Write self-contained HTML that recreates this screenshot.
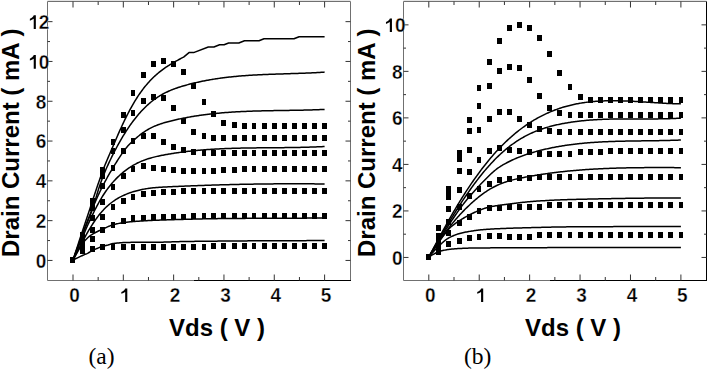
<!DOCTYPE html>
<html><head><meta charset="utf-8"><style>
html,body{margin:0;padding:0;background:#fff;}
body{width:707px;height:369px;overflow:hidden;}
svg{display:block;}
</style></head><body>
<svg width="707" height="369" viewBox="0 0 707 369">
<rect width="707" height="369" fill="#fff"/>
<line x1="47.5" y1="1.5" x2="350.5" y2="1.5" stroke="#707070"/>
<line x1="47.5" y1="0.5" x2="350.5" y2="0.5" stroke="#e4e4e4"/>
<line x1="47.5" y1="1.5" x2="47.5" y2="280.5" stroke="#707070"/>
<line x1="350.5" y1="1.5" x2="350.5" y2="280.5" stroke="#707070"/>
<line x1="47.5" y1="280.5" x2="194" y2="280.5" stroke="#707070"/>
<line x1="194" y1="280.5" x2="351.0" y2="280.5" stroke="#000"/>
<line x1="73.0" y1="280.5" x2="73.0" y2="274.5" stroke="#333"/>
<line x1="73.0" y1="1.5" x2="73.0" y2="7.5" stroke="#333"/>
<line x1="98.16" y1="280.5" x2="98.16" y2="277.0" stroke="#333"/>
<line x1="98.16" y1="1.5" x2="98.16" y2="5.0" stroke="#333"/>
<line x1="123.32" y1="280.5" x2="123.32" y2="274.5" stroke="#333"/>
<line x1="123.32" y1="1.5" x2="123.32" y2="7.5" stroke="#333"/>
<line x1="148.48000000000002" y1="280.5" x2="148.48000000000002" y2="277.0" stroke="#333"/>
<line x1="148.48000000000002" y1="1.5" x2="148.48000000000002" y2="5.0" stroke="#333"/>
<line x1="173.64" y1="280.5" x2="173.64" y2="274.5" stroke="#333"/>
<line x1="173.64" y1="1.5" x2="173.64" y2="7.5" stroke="#333"/>
<line x1="198.8" y1="280.5" x2="198.8" y2="277.0" stroke="#333"/>
<line x1="198.8" y1="1.5" x2="198.8" y2="5.0" stroke="#333"/>
<line x1="223.96" y1="280.5" x2="223.96" y2="274.5" stroke="#333"/>
<line x1="223.96" y1="1.5" x2="223.96" y2="7.5" stroke="#333"/>
<line x1="249.12" y1="280.5" x2="249.12" y2="277.0" stroke="#333"/>
<line x1="249.12" y1="1.5" x2="249.12" y2="5.0" stroke="#333"/>
<line x1="274.28" y1="280.5" x2="274.28" y2="274.5" stroke="#333"/>
<line x1="274.28" y1="1.5" x2="274.28" y2="7.5" stroke="#333"/>
<line x1="299.44" y1="280.5" x2="299.44" y2="277.0" stroke="#333"/>
<line x1="299.44" y1="1.5" x2="299.44" y2="5.0" stroke="#333"/>
<line x1="324.6" y1="280.5" x2="324.6" y2="274.5" stroke="#333"/>
<line x1="324.6" y1="1.5" x2="324.6" y2="7.5" stroke="#333"/>
<line x1="47.5" y1="260.45" x2="52.5" y2="260.45" stroke="#333"/>
<line x1="350.5" y1="260.45" x2="345.5" y2="260.45" stroke="#333"/>
<line x1="47.5" y1="240.54999999999998" x2="50.0" y2="240.54999999999998" stroke="#333"/>
<line x1="350.5" y1="240.54999999999998" x2="348.0" y2="240.54999999999998" stroke="#333"/>
<line x1="47.5" y1="220.64999999999998" x2="52.5" y2="220.64999999999998" stroke="#333"/>
<line x1="350.5" y1="220.64999999999998" x2="345.5" y2="220.64999999999998" stroke="#333"/>
<line x1="47.5" y1="200.75" x2="50.0" y2="200.75" stroke="#333"/>
<line x1="350.5" y1="200.75" x2="348.0" y2="200.75" stroke="#333"/>
<line x1="47.5" y1="180.85" x2="52.5" y2="180.85" stroke="#333"/>
<line x1="350.5" y1="180.85" x2="345.5" y2="180.85" stroke="#333"/>
<line x1="47.5" y1="160.95" x2="50.0" y2="160.95" stroke="#333"/>
<line x1="350.5" y1="160.95" x2="348.0" y2="160.95" stroke="#333"/>
<line x1="47.5" y1="141.05" x2="52.5" y2="141.05" stroke="#333"/>
<line x1="350.5" y1="141.05" x2="345.5" y2="141.05" stroke="#333"/>
<line x1="47.5" y1="121.15000000000002" x2="50.0" y2="121.15000000000002" stroke="#333"/>
<line x1="350.5" y1="121.15000000000002" x2="348.0" y2="121.15000000000002" stroke="#333"/>
<line x1="47.5" y1="101.25000000000001" x2="52.5" y2="101.25000000000001" stroke="#333"/>
<line x1="350.5" y1="101.25000000000001" x2="345.5" y2="101.25000000000001" stroke="#333"/>
<line x1="47.5" y1="81.35000000000001" x2="50.0" y2="81.35000000000001" stroke="#333"/>
<line x1="350.5" y1="81.35000000000001" x2="348.0" y2="81.35000000000001" stroke="#333"/>
<line x1="47.5" y1="61.45" x2="52.5" y2="61.45" stroke="#333"/>
<line x1="350.5" y1="61.45" x2="345.5" y2="61.45" stroke="#333"/>
<line x1="47.5" y1="41.550000000000026" x2="50.0" y2="41.550000000000026" stroke="#333"/>
<line x1="350.5" y1="41.550000000000026" x2="348.0" y2="41.550000000000026" stroke="#333"/>
<line x1="47.5" y1="21.650000000000016" x2="52.5" y2="21.650000000000016" stroke="#333"/>
<line x1="350.5" y1="21.650000000000016" x2="345.5" y2="21.650000000000016" stroke="#333"/>
<path d="M73.00,260.00 L74.00,256.93 L75.00,253.85 L76.00,250.78 L77.00,247.71 L78.00,244.65 L79.00,241.60 L80.00,238.56 L81.00,235.54 L82.00,232.55 L83.00,229.56 L84.00,226.57 L85.00,223.56 L86.00,220.54 L87.00,217.51 L88.00,214.46 L89.00,211.41 L90.00,208.36 L91.00,205.31 L92.00,202.26 L93.00,199.23 L94.00,196.20 L95.00,193.20 L96.00,190.21 L97.00,187.25 L98.00,184.32 L99.00,181.42 L100.00,178.56 L101.00,175.74 L102.00,172.98 L103.00,170.27 L104.00,167.64 L105.00,165.10 L106.00,162.63 L107.00,160.23 L108.00,157.88 L109.00,155.55 L110.00,153.23 L111.00,150.91 L112.00,148.58 L113.00,146.24 L114.00,143.91 L115.00,141.58 L116.00,139.26 L117.00,136.95 L118.00,134.66 L119.00,132.39 L120.00,130.15 L121.00,127.94 L122.00,125.76 L123.00,123.62 L124.00,121.51 L125.00,119.45 L126.00,117.42 L127.00,115.43 L128.00,113.47 L129.00,111.56 L130.00,109.69 L131.00,107.86 L132.00,106.07 L133.00,104.32 L134.00,102.61 L135.00,100.94 L136.00,99.31 L137.00,97.73 L138.00,96.19 L139.00,94.70 L140.00,93.24 L141.00,91.83 L142.00,90.46 L143.00,89.13 L144.00,87.83 L145.00,86.58 L146.00,85.36 L147.00,84.18 L148.00,83.03 L149.00,81.91 L150.00,80.83 L151.00,79.78 L152.00,78.76 L153.00,77.77 L154.00,76.81 L155.00,75.88 L156.00,74.98 L157.00,74.10 L158.00,73.25 L159.00,72.42 L160.00,71.61 L161.00,70.83 L162.00,70.07 L163.00,69.33 L164.00,68.61 L165.00,67.91 L166.00,67.22 L167.00,66.55 L168.00,65.90 L169.00,65.27 L170.00,64.64 L171.00,64.03 L172.00,63.44 L173.00,62.85 L174.00,62.27 L175.00,61.71 L176.00,61.15 L177.00,60.60 L178.00,60.05 L179.00,59.51 L180.00,58.98 L181.00,58.45 L182.00,57.92 L183.00,57.39 L183.60,57.08 L189.00,52.60 L193.60,52.60 L208.30,47.00 L213.90,47.00 L219.60,44.70 L224.10,44.70 L228.60,43.00 L238.80,43.00 L244.50,40.70 L259.00,40.80 L264.00,38.80 L294.00,38.80 L299.10,36.70 L324.60,36.70" fill="none" stroke="#000" stroke-width="1.5" stroke-linejoin="round"/>
<path d="M73.00,260.00 L74.00,257.35 L75.00,254.69 L76.00,252.01 L77.00,249.33 L78.00,246.64 L79.00,243.95 L80.00,241.27 L81.00,238.61 L82.00,235.96 L83.00,233.34 L84.00,230.76 L85.00,228.21 L86.00,225.69 L87.00,223.21 L88.00,220.72 L89.00,218.23 L90.00,215.71 L91.00,213.14 L92.00,210.47 L93.00,207.55 L94.00,204.36 L95.00,201.01 L96.00,197.60 L97.00,194.22 L98.00,190.96 L99.00,187.84 L100.00,184.86 L101.00,182.01 L102.00,179.27 L103.00,176.64 L104.00,174.11 L105.00,171.68 L106.00,169.32 L107.00,167.04 L108.00,164.82 L109.00,162.66 L110.00,160.55 L111.00,158.47 L112.00,156.43 L113.00,154.43 L114.00,152.46 L115.00,150.52 L116.00,148.62 L117.00,146.75 L118.00,144.91 L119.00,143.11 L120.00,141.34 L121.00,139.60 L122.00,137.90 L123.00,136.23 L124.00,134.59 L125.00,132.99 L126.00,131.42 L127.00,129.88 L128.00,128.37 L129.00,126.89 L130.00,125.44 L131.00,124.03 L132.00,122.65 L133.00,121.29 L134.00,119.97 L135.00,118.68 L136.00,117.42 L137.00,116.19 L138.00,114.99 L139.00,113.82 L140.00,112.68 L141.00,111.57 L142.00,110.48 L143.00,109.43 L144.00,108.41 L145.00,107.41 L146.00,106.45 L147.00,105.51 L148.00,104.60 L149.00,103.72 L150.00,102.86 L151.00,102.04 L152.00,101.24 L153.00,100.46 L154.00,99.71 L155.00,98.98 L156.00,98.28 L157.00,97.60 L158.00,96.95 L159.00,96.31 L160.00,95.70 L161.00,95.11 L162.00,94.53 L163.00,93.98 L164.00,93.45 L165.00,92.93 L166.00,92.43 L167.00,91.95 L168.00,91.48 L169.00,91.03 L170.00,90.60 L171.00,90.18 L172.00,89.77 L173.00,89.37 L174.00,88.99 L175.00,88.62 L176.00,88.26 L177.00,87.92 L178.00,87.58 L179.00,87.25 L180.00,86.93 L181.00,86.62 L182.00,86.31 L183.00,86.02 L184.00,85.73 L185.00,85.44 L186.00,85.16 L187.00,84.88 L188.00,84.61 L189.00,84.35 L190.00,84.09 L191.00,83.83 L192.00,83.58 L193.00,83.33 L194.00,83.09 L195.00,82.85 L196.00,82.62 L197.00,82.39 L198.00,82.16 L199.00,81.94 L200.00,81.73 L201.00,81.51 L202.00,81.31 L203.00,81.10 L204.00,80.90 L205.00,80.71 L206.00,80.52 L207.00,80.33 L208.00,80.14 L209.00,79.97 L210.00,79.79 L211.00,79.62 L212.00,79.45 L213.00,79.28 L214.00,79.12 L215.00,78.96 L216.00,78.81 L217.00,78.66 L218.00,78.51 L219.00,78.37 L220.00,78.23 L221.00,78.09 L222.00,77.96 L223.00,77.82 L224.00,77.70 L225.00,77.57 L226.00,77.45 L227.00,77.33 L228.00,77.21 L229.00,77.10 L230.00,76.99 L231.00,76.88 L232.00,76.78 L233.00,76.68 L234.00,76.58 L235.00,76.48 L236.00,76.38 L237.00,76.29 L238.00,76.20 L239.00,76.12 L240.00,76.03 L241.00,75.95 L242.00,75.87 L243.00,75.79 L244.00,75.71 L245.00,75.64 L246.00,75.57 L247.00,75.50 L248.00,75.43 L249.00,75.36 L250.00,75.30 L251.00,75.23 L252.00,75.17 L253.00,75.11 L254.00,75.06 L255.00,75.00 L256.00,74.95 L257.00,74.89 L258.00,74.84 L259.00,74.79 L260.00,74.74 L261.00,74.69 L262.00,74.65 L263.00,74.60 L264.00,74.56 L265.00,74.52 L266.00,74.47 L267.00,74.43 L268.00,74.39 L269.00,74.35 L270.00,74.32 L271.00,74.28 L272.00,74.24 L273.00,74.21 L274.00,74.17 L275.00,74.14 L276.00,74.10 L277.00,74.07 L278.00,74.04 L279.00,74.00 L280.00,73.97 L281.00,73.94 L282.00,73.91 L283.00,73.88 L284.00,73.84 L285.00,73.81 L286.00,73.78 L287.00,73.75 L288.00,73.72 L289.00,73.69 L290.00,73.66 L291.00,73.62 L292.00,73.59 L293.00,73.56 L294.00,73.53 L295.00,73.49 L296.00,73.46 L297.00,73.43 L298.00,73.39 L299.00,73.36 L300.00,73.32 L301.00,73.29 L302.00,73.25 L303.00,73.21 L304.00,73.17 L305.00,73.13 L306.00,73.09 L307.00,73.05 L308.00,73.01 L309.00,72.97 L310.00,72.92 L311.00,72.88 L312.00,72.83 L313.00,72.78 L314.00,72.73 L315.00,72.68 L316.00,72.63 L317.00,72.58 L318.00,72.52 L319.00,72.46 L320.00,72.41 L321.00,72.35 L322.00,72.29 L323.00,72.22 L324.00,72.16 L324.60,72.12" fill="none" stroke="#000" stroke-width="1.5" stroke-linejoin="round"/>
<path d="M73.00,260.00 L74.00,257.24 L75.00,254.49 L76.00,251.74 L77.00,248.99 L78.00,246.24 L79.00,243.51 L80.00,240.78 L81.00,238.07 L82.00,235.37 L83.00,232.68 L84.00,230.02 L85.00,227.37 L86.00,224.75 L87.00,222.15 L88.00,219.58 L89.00,217.04 L90.00,214.52 L91.00,212.04 L92.00,209.60 L93.00,207.19 L94.00,204.82 L95.00,202.49 L96.00,200.20 L97.00,197.96 L98.00,195.76 L99.00,193.62 L100.00,191.52 L101.00,189.46 L102.00,187.45 L103.00,185.48 L104.00,183.55 L105.00,181.66 L106.00,179.81 L107.00,177.99 L108.00,176.20 L109.00,174.44 L110.00,172.71 L111.00,171.01 L112.00,169.33 L113.00,167.67 L114.00,166.04 L115.00,164.42 L116.00,162.83 L117.00,161.24 L118.00,159.67 L119.00,158.12 L120.00,156.58 L121.00,155.07 L122.00,153.59 L123.00,152.15 L124.00,150.76 L125.00,149.42 L126.00,148.15 L127.00,146.94 L128.00,145.80 L129.00,144.73 L130.00,143.71 L131.00,142.73 L132.00,141.78 L133.00,140.86 L134.00,139.96 L135.00,139.07 L136.00,138.21 L137.00,137.36 L138.00,136.53 L139.00,135.73 L140.00,134.94 L141.00,134.18 L142.00,133.44 L143.00,132.72 L144.00,132.02 L145.00,131.35 L146.00,130.71 L147.00,130.09 L148.00,129.49 L149.00,128.92 L150.00,128.38 L151.00,127.86 L152.00,127.36 L153.00,126.89 L154.00,126.43 L155.00,126.00 L156.00,125.58 L157.00,125.19 L158.00,124.80 L159.00,124.44 L160.00,124.09 L161.00,123.75 L162.00,123.43 L163.00,123.12 L164.00,122.82 L165.00,122.53 L166.00,122.25 L167.00,121.98 L168.00,121.71 L169.00,121.45 L170.00,121.20 L171.00,120.95 L172.00,120.70 L173.00,120.46 L174.00,120.22 L175.00,119.99 L176.00,119.76 L177.00,119.54 L178.00,119.31 L179.00,119.10 L180.00,118.88 L181.00,118.67 L182.00,118.47 L183.00,118.26 L184.00,118.06 L185.00,117.87 L186.00,117.68 L187.00,117.49 L188.00,117.30 L189.00,117.12 L190.00,116.94 L191.00,116.77 L192.00,116.60 L193.00,116.43 L194.00,116.27 L195.00,116.10 L196.00,115.95 L197.00,115.79 L198.00,115.64 L199.00,115.49 L200.00,115.35 L201.00,115.20 L202.00,115.07 L203.00,114.93 L204.00,114.80 L205.00,114.67 L206.00,114.54 L207.00,114.41 L208.00,114.29 L209.00,114.17 L210.00,114.06 L211.00,113.94 L212.00,113.83 L213.00,113.72 L214.00,113.62 L215.00,113.51 L216.00,113.41 L217.00,113.32 L218.00,113.22 L219.00,113.13 L220.00,113.04 L221.00,112.95 L222.00,112.86 L223.00,112.78 L224.00,112.69 L225.00,112.61 L226.00,112.54 L227.00,112.46 L228.00,112.39 L229.00,112.32 L230.00,112.25 L231.00,112.18 L232.00,112.11 L233.00,112.05 L234.00,111.99 L235.00,111.93 L236.00,111.87 L237.00,111.82 L238.00,111.76 L239.00,111.71 L240.00,111.66 L241.00,111.61 L242.00,111.56 L243.00,111.51 L244.00,111.47 L245.00,111.42 L246.00,111.38 L247.00,111.34 L248.00,111.30 L249.00,111.26 L250.00,111.22 L251.00,111.19 L252.00,111.15 L253.00,111.12 L254.00,111.09 L255.00,111.06 L256.00,111.03 L257.00,111.00 L258.00,110.97 L259.00,110.94 L260.00,110.92 L261.00,110.89 L262.00,110.87 L263.00,110.84 L264.00,110.82 L265.00,110.80 L266.00,110.78 L267.00,110.76 L268.00,110.73 L269.00,110.71 L270.00,110.70 L271.00,110.68 L272.00,110.66 L273.00,110.64 L274.00,110.62 L275.00,110.61 L276.00,110.59 L277.00,110.57 L278.00,110.56 L279.00,110.54 L280.00,110.53 L281.00,110.51 L282.00,110.49 L283.00,110.48 L284.00,110.46 L285.00,110.45 L286.00,110.43 L287.00,110.42 L288.00,110.40 L289.00,110.39 L290.00,110.37 L291.00,110.35 L292.00,110.34 L293.00,110.32 L294.00,110.30 L295.00,110.28 L296.00,110.27 L297.00,110.25 L298.00,110.23 L299.00,110.21 L300.00,110.19 L301.00,110.17 L302.00,110.15 L303.00,110.13 L304.00,110.10 L305.00,110.08 L306.00,110.06 L307.00,110.03 L308.00,110.01 L309.00,109.98 L310.00,109.95 L311.00,109.92 L312.00,109.90 L313.00,109.86 L314.00,109.83 L315.00,109.80 L316.00,109.77 L317.00,109.73 L318.00,109.70 L319.00,109.66 L320.00,109.62 L321.00,109.58 L322.00,109.54 L323.00,109.50 L324.00,109.45 L324.60,109.42" fill="none" stroke="#000" stroke-width="1.5" stroke-linejoin="round"/>
<path d="M73.00,260.00 L74.00,257.58 L75.00,255.16 L76.00,252.74 L77.00,250.33 L78.00,247.92 L79.00,245.51 L80.00,243.12 L81.00,240.74 L82.00,238.37 L83.00,236.01 L84.00,233.68 L85.00,231.36 L86.00,229.07 L87.00,226.80 L88.00,224.55 L89.00,222.34 L90.00,220.16 L91.00,218.01 L92.00,215.89 L93.00,213.81 L94.00,211.77 L95.00,209.77 L96.00,207.82 L97.00,205.91 L98.00,204.05 L99.00,202.24 L100.00,200.48 L101.00,198.77 L102.00,197.12 L103.00,195.52 L104.00,193.97 L105.00,192.47 L106.00,191.03 L107.00,189.62 L108.00,188.27 L109.00,186.96 L110.00,185.69 L111.00,184.46 L112.00,183.27 L113.00,182.12 L114.00,181.01 L115.00,179.93 L116.00,178.88 L117.00,177.87 L118.00,176.89 L119.00,175.93 L120.00,175.01 L121.00,174.12 L122.00,173.25 L123.00,172.41 L124.00,171.60 L125.00,170.82 L126.00,170.06 L127.00,169.33 L128.00,168.62 L129.00,167.94 L130.00,167.28 L131.00,166.64 L132.00,166.03 L133.00,165.44 L134.00,164.87 L135.00,164.32 L136.00,163.79 L137.00,163.28 L138.00,162.79 L139.00,162.32 L140.00,161.87 L141.00,161.43 L142.00,161.02 L143.00,160.61 L144.00,160.23 L145.00,159.86 L146.00,159.50 L147.00,159.16 L148.00,158.83 L149.00,158.52 L150.00,158.21 L151.00,157.92 L152.00,157.64 L153.00,157.37 L154.00,157.11 L155.00,156.86 L156.00,156.62 L157.00,156.39 L158.00,156.17 L159.00,155.95 L160.00,155.74 L161.00,155.54 L162.00,155.34 L163.00,155.14 L164.00,154.95 L165.00,154.77 L166.00,154.59 L167.00,154.41 L168.00,154.23 L169.00,154.06 L170.00,153.89 L171.00,153.73 L172.00,153.56 L173.00,153.40 L174.00,153.25 L175.00,153.10 L176.00,152.94 L177.00,152.80 L178.00,152.65 L179.00,152.51 L180.00,152.37 L181.00,152.24 L182.00,152.10 L183.00,151.97 L184.00,151.85 L185.00,151.72 L186.00,151.60 L187.00,151.48 L188.00,151.36 L189.00,151.25 L190.00,151.14 L191.00,151.03 L192.00,150.92 L193.00,150.82 L194.00,150.72 L195.00,150.62 L196.00,150.52 L197.00,150.43 L198.00,150.33 L199.00,150.24 L200.00,150.16 L201.00,150.07 L202.00,149.99 L203.00,149.91 L204.00,149.83 L205.00,149.75 L206.00,149.68 L207.00,149.60 L208.00,149.53 L209.00,149.46 L210.00,149.40 L211.00,149.33 L212.00,149.27 L213.00,149.21 L214.00,149.15 L215.00,149.09 L216.00,149.04 L217.00,148.98 L218.00,148.93 L219.00,148.88 L220.00,148.83 L221.00,148.78 L222.00,148.74 L223.00,148.69 L224.00,148.65 L225.00,148.61 L226.00,148.57 L227.00,148.53 L228.00,148.49 L229.00,148.45 L230.00,148.42 L231.00,148.39 L232.00,148.35 L233.00,148.32 L234.00,148.29 L235.00,148.26 L236.00,148.24 L237.00,148.21 L238.00,148.19 L239.00,148.16 L240.00,148.14 L241.00,148.12 L242.00,148.09 L243.00,148.07 L244.00,148.05 L245.00,148.04 L246.00,148.02 L247.00,148.00 L248.00,147.98 L249.00,147.97 L250.00,147.95 L251.00,147.94 L252.00,147.92 L253.00,147.91 L254.00,147.90 L255.00,147.89 L256.00,147.88 L257.00,147.86 L258.00,147.85 L259.00,147.84 L260.00,147.83 L261.00,147.82 L262.00,147.81 L263.00,147.81 L264.00,147.80 L265.00,147.79 L266.00,147.78 L267.00,147.77 L268.00,147.76 L269.00,147.76 L270.00,147.75 L271.00,147.74 L272.00,147.73 L273.00,147.72 L274.00,147.72 L275.00,147.71 L276.00,147.70 L277.00,147.69 L278.00,147.68 L279.00,147.67 L280.00,147.66 L281.00,147.66 L282.00,147.65 L283.00,147.64 L284.00,147.63 L285.00,147.61 L286.00,147.60 L287.00,147.59 L288.00,147.58 L289.00,147.57 L290.00,147.55 L291.00,147.54 L292.00,147.52 L293.00,147.51 L294.00,147.49 L295.00,147.48 L296.00,147.46 L297.00,147.44 L298.00,147.42 L299.00,147.40 L300.00,147.38 L301.00,147.36 L302.00,147.34 L303.00,147.31 L304.00,147.29 L305.00,147.26 L306.00,147.24 L307.00,147.21 L308.00,147.18 L309.00,147.15 L310.00,147.12 L311.00,147.08 L312.00,147.05 L313.00,147.02 L314.00,146.98 L315.00,146.94 L316.00,146.90 L317.00,146.86 L318.00,146.82 L319.00,146.78 L320.00,146.73 L321.00,146.68 L322.00,146.64 L323.00,146.59 L324.00,146.53 L324.60,146.50" fill="none" stroke="#000" stroke-width="1.5" stroke-linejoin="round"/>
<path d="M73.00,260.00 L74.00,258.05 L75.00,256.09 L76.00,254.14 L77.00,252.19 L78.00,250.25 L79.00,248.32 L80.00,246.39 L81.00,244.49 L82.00,242.59 L83.00,240.72 L84.00,238.87 L85.00,237.04 L86.00,235.23 L87.00,233.45 L88.00,231.70 L89.00,229.99 L90.00,228.31 L91.00,226.66 L92.00,225.06 L93.00,223.50 L94.00,221.98 L95.00,220.50 L96.00,219.08 L97.00,217.69 L98.00,216.36 L99.00,215.08 L100.00,213.84 L101.00,212.64 L102.00,211.50 L103.00,210.39 L104.00,209.33 L105.00,208.31 L106.00,207.33 L107.00,206.39 L108.00,205.49 L109.00,204.62 L110.00,203.79 L111.00,202.99 L112.00,202.23 L113.00,201.50 L114.00,200.80 L115.00,200.12 L116.00,199.48 L117.00,198.86 L118.00,198.27 L119.00,197.71 L120.00,197.16 L121.00,196.64 L122.00,196.14 L123.00,195.66 L124.00,195.20 L125.00,194.76 L126.00,194.33 L127.00,193.92 L128.00,193.53 L129.00,193.15 L130.00,192.79 L131.00,192.44 L132.00,192.10 L133.00,191.79 L134.00,191.48 L135.00,191.19 L136.00,190.91 L137.00,190.65 L138.00,190.40 L139.00,190.16 L140.00,189.93 L141.00,189.71 L142.00,189.51 L143.00,189.31 L144.00,189.13 L145.00,188.96 L146.00,188.79 L147.00,188.63 L148.00,188.49 L149.00,188.35 L150.00,188.22 L151.00,188.10 L152.00,187.98 L153.00,187.87 L154.00,187.77 L155.00,187.68 L156.00,187.59 L157.00,187.50 L158.00,187.42 L159.00,187.35 L160.00,187.28 L161.00,187.22 L162.00,187.15 L163.00,187.10 L164.00,187.04 L165.00,186.99 L166.00,186.94 L167.00,186.89 L168.00,186.84 L169.00,186.79 L170.00,186.75 L171.00,186.70 L172.00,186.65 L173.00,186.61 L174.00,186.57 L175.00,186.52 L176.00,186.48 L177.00,186.43 L178.00,186.39 L179.00,186.35 L180.00,186.30 L181.00,186.26 L182.00,186.22 L183.00,186.18 L184.00,186.14 L185.00,186.10 L186.00,186.05 L187.00,186.01 L188.00,185.97 L189.00,185.93 L190.00,185.90 L191.00,185.86 L192.00,185.82 L193.00,185.78 L194.00,185.74 L195.00,185.70 L196.00,185.67 L197.00,185.63 L198.00,185.59 L199.00,185.56 L200.00,185.52 L201.00,185.48 L202.00,185.45 L203.00,185.41 L204.00,185.38 L205.00,185.35 L206.00,185.31 L207.00,185.28 L208.00,185.24 L209.00,185.21 L210.00,185.18 L211.00,185.15 L212.00,185.12 L213.00,185.08 L214.00,185.05 L215.00,185.02 L216.00,184.99 L217.00,184.96 L218.00,184.93 L219.00,184.90 L220.00,184.87 L221.00,184.85 L222.00,184.82 L223.00,184.79 L224.00,184.76 L225.00,184.73 L226.00,184.71 L227.00,184.68 L228.00,184.66 L229.00,184.63 L230.00,184.60 L231.00,184.58 L232.00,184.55 L233.00,184.53 L234.00,184.51 L235.00,184.48 L236.00,184.46 L237.00,184.44 L238.00,184.42 L239.00,184.39 L240.00,184.37 L241.00,184.35 L242.00,184.33 L243.00,184.31 L244.00,184.29 L245.00,184.27 L246.00,184.25 L247.00,184.23 L248.00,184.21 L249.00,184.19 L250.00,184.18 L251.00,184.16 L252.00,184.14 L253.00,184.13 L254.00,184.11 L255.00,184.09 L256.00,184.08 L257.00,184.06 L258.00,184.05 L259.00,184.03 L260.00,184.02 L261.00,184.01 L262.00,183.99 L263.00,183.98 L264.00,183.97 L265.00,183.96 L266.00,183.94 L267.00,183.93 L268.00,183.92 L269.00,183.91 L270.00,183.90 L271.00,183.89 L272.00,183.88 L273.00,183.88 L274.00,183.87 L275.00,183.86 L276.00,183.85 L277.00,183.84 L278.00,183.84 L279.00,183.83 L280.00,183.83 L281.00,183.82 L282.00,183.81 L283.00,183.81 L284.00,183.81 L285.00,183.80 L286.00,183.80 L287.00,183.80 L288.00,183.79 L289.00,183.79 L290.00,183.79 L291.00,183.79 L292.00,183.79 L293.00,183.79 L294.00,183.79 L295.00,183.79 L296.00,183.79 L297.00,183.79 L298.00,183.79 L299.00,183.79 L300.00,183.79 L301.00,183.80 L302.00,183.80 L303.00,183.80 L304.00,183.81 L305.00,183.81 L306.00,183.82 L307.00,183.82 L308.00,183.83 L309.00,183.83 L310.00,183.84 L311.00,183.85 L312.00,183.86 L313.00,183.86 L314.00,183.87 L315.00,183.88 L316.00,183.89 L317.00,183.90 L318.00,183.91 L319.00,183.92 L320.00,183.93 L321.00,183.94 L322.00,183.96 L323.00,183.97 L324.00,183.98 L324.60,183.99" fill="none" stroke="#000" stroke-width="1.5" stroke-linejoin="round"/>
<path d="M73.00,260.00 L74.00,258.20 L75.00,256.41 L76.00,254.63 L77.00,252.87 L78.00,251.13 L79.00,249.42 L80.00,247.75 L81.00,246.12 L82.00,244.54 L83.00,243.00 L84.00,241.62 L85.00,240.48 L86.00,239.42 L87.00,238.44 L88.00,237.53 L89.00,236.68 L90.00,235.90 L91.00,235.18 L92.00,234.50 L93.00,233.88 L94.00,233.29 L95.00,232.74 L96.00,232.22 L97.00,231.72 L98.00,231.25 L99.00,230.79 L100.00,230.33 L101.00,229.88 L102.00,229.43 L103.00,228.97 L104.00,228.50 L105.00,228.03 L106.00,227.57 L107.00,227.11 L108.00,226.68 L109.00,226.26 L110.00,225.87 L111.00,225.52 L112.00,225.20 L113.00,224.91 L114.00,224.63 L115.00,224.36 L116.00,224.10 L117.00,223.85 L118.00,223.61 L119.00,223.39 L120.00,223.18 L121.00,222.99 L122.00,222.82 L123.00,222.66 L124.00,222.52 L125.00,222.40 L126.00,222.29 L127.00,222.18 L128.00,222.07 L129.00,221.97 L130.00,221.87 L131.00,221.77 L132.00,221.68 L133.00,221.59 L134.00,221.51 L135.00,221.43 L136.00,221.35 L137.00,221.28 L138.00,221.20 L139.00,221.14 L140.00,221.07 L141.00,221.00 L142.00,220.94 L143.00,220.88 L144.00,220.82 L145.00,220.76 L146.00,220.71 L147.00,220.66 L148.00,220.60 L149.00,220.55 L150.00,220.50 L151.00,220.45 L152.00,220.40 L153.00,220.36 L154.00,220.32 L155.00,220.28 L156.00,220.24 L157.00,220.20 L158.00,220.17 L159.00,220.13 L160.00,220.10 L161.00,220.07 L162.00,220.03 L163.00,220.00 L164.00,219.97 L165.00,219.94 L166.00,219.91 L167.00,219.87 L168.00,219.84 L169.00,219.81 L170.00,219.78 L171.00,219.75 L172.00,219.71 L173.00,219.68 L174.00,219.65 L175.00,219.62 L176.00,219.59 L177.00,219.56 L178.00,219.53 L179.00,219.50 L180.00,219.47 L181.00,219.44 L182.00,219.41 L183.00,219.38 L184.00,219.35 L185.00,219.32 L186.00,219.29 L187.00,219.27 L188.00,219.24 L189.00,219.21 L190.00,219.18 L191.00,219.16 L192.00,219.13 L193.00,219.11 L194.00,219.08 L195.00,219.06 L196.00,219.03 L197.00,219.01 L198.00,218.98 L199.00,218.96 L200.00,218.94 L201.00,218.92 L202.00,218.89 L203.00,218.87 L204.00,218.85 L205.00,218.83 L206.00,218.81 L207.00,218.79 L208.00,218.77 L209.00,218.76 L210.00,218.74 L211.00,218.72 L212.00,218.71 L213.00,218.69 L214.00,218.68 L215.00,218.66 L216.00,218.65 L217.00,218.63 L218.00,218.62 L219.00,218.61 L220.00,218.60 L221.00,218.59 L222.00,218.58 L223.00,218.57 L224.00,218.56 L225.00,218.55 L226.00,218.54 L227.00,218.53 L228.00,218.52 L229.00,218.51 L230.00,218.50 L231.00,218.49 L232.00,218.48 L233.00,218.48 L234.00,218.47 L235.00,218.46 L236.00,218.45 L237.00,218.44 L238.00,218.43 L239.00,218.43 L240.00,218.42 L241.00,218.41 L242.00,218.40 L243.00,218.39 L244.00,218.39 L245.00,218.38 L246.00,218.37 L247.00,218.37 L248.00,218.36 L249.00,218.35 L250.00,218.35 L251.00,218.34 L252.00,218.33 L253.00,218.33 L254.00,218.32 L255.00,218.31 L256.00,218.31 L257.00,218.30 L258.00,218.30 L259.00,218.29 L260.00,218.29 L261.00,218.28 L262.00,218.28 L263.00,218.27 L264.00,218.27 L265.00,218.26 L266.00,218.26 L267.00,218.25 L268.00,218.25 L269.00,218.24 L270.00,218.24 L271.00,218.23 L272.00,218.23 L273.00,218.23 L274.00,218.22 L275.00,218.22 L276.00,218.21 L277.00,218.21 L278.00,218.21 L279.00,218.20 L280.00,218.20 L281.00,218.20 L282.00,218.19 L283.00,218.19 L284.00,218.19 L285.00,218.18 L286.00,218.18 L287.00,218.18 L288.00,218.17 L289.00,218.17 L290.00,218.17 L291.00,218.17 L292.00,218.16 L293.00,218.16 L294.00,218.16 L295.00,218.15 L296.00,218.15 L297.00,218.15 L298.00,218.14 L299.00,218.14 L300.00,218.14 L301.00,218.14 L302.00,218.13 L303.00,218.13 L304.00,218.13 L305.00,218.13 L306.00,218.13 L307.00,218.12 L308.00,218.12 L309.00,218.12 L310.00,218.12 L311.00,218.12 L312.00,218.11 L313.00,218.11 L314.00,218.11 L315.00,218.11 L316.00,218.11 L317.00,218.11 L318.00,218.10 L319.00,218.10 L320.00,218.10 L321.00,218.10 L322.00,218.10 L323.00,218.10 L324.00,218.10 L324.60,218.10" fill="none" stroke="#000" stroke-width="1.5" stroke-linejoin="round"/>
<path d="M73.00,260.00 L74.00,259.51 L75.00,259.03 L76.00,258.54 L77.00,258.06 L78.00,257.58 L79.00,257.11 L80.00,256.64 L81.00,256.18 L82.00,255.73 L83.00,255.28 L84.00,254.85 L85.00,254.42 L86.00,254.00 L87.00,253.60 L88.00,253.10 L89.00,252.52 L90.00,251.92 L91.00,251.33 L92.00,250.80 L93.00,250.32 L94.00,249.84 L95.00,249.38 L96.00,248.93 L97.00,248.49 L98.00,248.07 L99.00,247.67 L100.00,247.29 L101.00,246.93 L102.00,246.60 L103.00,246.30 L104.00,246.02 L105.00,245.76 L106.00,245.52 L107.00,245.26 L108.00,245.00 L109.00,244.70 L110.00,244.38 L111.00,244.06 L112.00,243.79 L113.00,243.60 L114.00,243.47 L115.00,243.34 L116.00,243.22 L117.00,243.10 L118.00,243.00 L119.00,242.90 L120.00,242.81 L121.00,242.73 L122.00,242.65 L123.00,242.59 L124.00,242.53 L125.00,242.48 L126.00,242.45 L127.00,242.42 L128.00,242.40 L129.00,242.39 L130.00,242.38 L131.00,242.37 L132.00,242.36 L133.00,242.35 L134.00,242.34 L135.00,242.33 L136.00,242.33 L137.00,242.32 L138.00,242.32 L139.00,242.31 L140.00,242.31 L141.00,242.30 L142.00,242.30 L143.00,242.30 L144.00,242.29 L145.00,242.29 L146.00,242.28 L147.00,242.28 L148.00,242.28 L149.00,242.27 L150.00,242.27 L151.00,242.27 L152.00,242.26 L153.00,242.26 L154.00,242.25 L155.00,242.24 L156.00,242.24 L157.00,242.23 L158.00,242.22 L159.00,242.21 L160.00,242.20 L161.00,242.19 L162.00,242.17 L163.00,242.15 L164.00,242.12 L165.00,242.10 L166.00,242.06 L167.00,242.03 L168.00,242.00 L169.00,241.96 L170.00,241.92 L171.00,241.89 L172.00,241.85 L173.00,241.81 L174.00,241.78 L175.00,241.74 L176.00,241.71 L177.00,241.68 L178.00,241.65 L179.00,241.63 L180.00,241.61 L181.00,241.59 L182.00,241.57 L183.00,241.55 L184.00,241.53 L185.00,241.52 L186.00,241.50 L187.00,241.48 L188.00,241.47 L189.00,241.45 L190.00,241.44 L191.00,241.42 L192.00,241.41 L193.00,241.40 L194.00,241.38 L195.00,241.37 L196.00,241.35 L197.00,241.34 L198.00,241.33 L199.00,241.32 L200.00,241.30 L201.00,241.29 L202.00,241.28 L203.00,241.27 L204.00,241.26 L205.00,241.25 L206.00,241.24 L207.00,241.23 L208.00,241.21 L209.00,241.20 L210.00,241.19 L211.00,241.18 L212.00,241.17 L213.00,241.16 L214.00,241.16 L215.00,241.15 L216.00,241.14 L217.00,241.13 L218.00,241.12 L219.00,241.11 L220.00,241.10 L221.00,241.09 L222.00,241.08 L223.00,241.07 L224.00,241.06 L225.00,241.06 L226.00,241.05 L227.00,241.04 L228.00,241.03 L229.00,241.02 L230.00,241.01 L231.00,241.00 L232.00,241.00 L233.00,240.99 L234.00,240.98 L235.00,240.97 L236.00,240.96 L237.00,240.96 L238.00,240.95 L239.00,240.94 L240.00,240.93 L241.00,240.92 L242.00,240.92 L243.00,240.91 L244.00,240.90 L245.00,240.89 L246.00,240.89 L247.00,240.88 L248.00,240.87 L249.00,240.86 L250.00,240.86 L251.00,240.85 L252.00,240.84 L253.00,240.84 L254.00,240.83 L255.00,240.82 L256.00,240.82 L257.00,240.81 L258.00,240.81 L259.00,240.80 L260.00,240.79 L261.00,240.79 L262.00,240.78 L263.00,240.78 L264.00,240.77 L265.00,240.77 L266.00,240.76 L267.00,240.75 L268.00,240.75 L269.00,240.74 L270.00,240.74 L271.00,240.74 L272.00,240.73 L273.00,240.73 L274.00,240.72 L275.00,240.72 L276.00,240.71 L277.00,240.71 L278.00,240.71 L279.00,240.70 L280.00,240.70 L281.00,240.70 L282.00,240.69 L283.00,240.69 L284.00,240.69 L285.00,240.68 L286.00,240.68 L287.00,240.68 L288.00,240.67 L289.00,240.67 L290.00,240.67 L291.00,240.67 L292.00,240.66 L293.00,240.66 L294.00,240.66 L295.00,240.65 L296.00,240.65 L297.00,240.65 L298.00,240.64 L299.00,240.64 L300.00,240.64 L301.00,240.64 L302.00,240.63 L303.00,240.63 L304.00,240.63 L305.00,240.63 L306.00,240.63 L307.00,240.62 L308.00,240.62 L309.00,240.62 L310.00,240.62 L311.00,240.62 L312.00,240.61 L313.00,240.61 L314.00,240.61 L315.00,240.61 L316.00,240.61 L317.00,240.61 L318.00,240.60 L319.00,240.60 L320.00,240.60 L321.00,240.60 L322.00,240.60 L323.00,240.60 L324.00,240.60 L324.60,240.60" fill="none" stroke="#000" stroke-width="1.5" stroke-linejoin="round"/>
<rect x="70" y="257" width="5" height="6" fill="#000"/>
<rect x="80" y="232" width="5" height="6" fill="#000"/>
<rect x="90" y="198" width="5" height="6" fill="#000"/>
<rect x="100" y="167" width="5" height="6" fill="#000"/>
<rect x="111" y="139" width="4" height="6" fill="#000"/>
<rect x="121" y="112" width="5" height="6" fill="#000"/>
<rect x="131" y="90" width="4" height="6" fill="#000"/>
<rect x="141" y="72" width="5" height="6" fill="#000"/>
<rect x="151" y="61" width="5" height="6" fill="#000"/>
<rect x="161" y="58" width="5" height="6" fill="#000"/>
<rect x="171" y="61" width="5" height="6" fill="#000"/>
<rect x="181" y="69" width="5" height="6" fill="#000"/>
<rect x="191" y="83" width="5" height="6" fill="#000"/>
<rect x="202" y="99" width="4" height="6" fill="#000"/>
<rect x="211" y="111" width="5" height="6" fill="#000"/>
<rect x="221" y="120" width="5" height="6" fill="#000"/>
<rect x="232" y="122" width="5" height="6" fill="#000"/>
<rect x="242" y="123" width="5" height="6" fill="#000"/>
<rect x="252" y="123" width="4" height="6" fill="#000"/>
<rect x="262" y="123" width="5" height="6" fill="#000"/>
<rect x="272" y="123" width="5" height="6" fill="#000"/>
<rect x="282" y="123" width="5" height="6" fill="#000"/>
<rect x="292" y="123" width="5" height="6" fill="#000"/>
<rect x="302" y="123" width="5" height="6" fill="#000"/>
<rect x="312" y="123" width="5" height="6" fill="#000"/>
<rect x="322" y="123" width="5" height="6" fill="#000"/>
<rect x="70" y="257" width="5" height="6" fill="#000"/>
<rect x="80" y="235" width="5" height="6" fill="#000"/>
<rect x="90" y="202" width="5" height="6" fill="#000"/>
<rect x="100" y="173" width="5" height="6" fill="#000"/>
<rect x="111" y="148" width="4" height="6" fill="#000"/>
<rect x="121" y="127" width="5" height="6" fill="#000"/>
<rect x="131" y="110" width="4" height="6" fill="#000"/>
<rect x="141" y="98" width="5" height="6" fill="#000"/>
<rect x="151" y="94" width="5" height="6" fill="#000"/>
<rect x="161" y="95" width="5" height="6" fill="#000"/>
<rect x="171" y="105" width="5" height="6" fill="#000"/>
<rect x="181" y="118" width="5" height="6" fill="#000"/>
<rect x="191" y="129" width="5" height="6" fill="#000"/>
<rect x="202" y="133" width="4" height="6" fill="#000"/>
<rect x="211" y="135" width="5" height="6" fill="#000"/>
<rect x="221" y="135" width="5" height="6" fill="#000"/>
<rect x="232" y="135" width="5" height="6" fill="#000"/>
<rect x="242" y="135" width="5" height="6" fill="#000"/>
<rect x="252" y="135" width="4" height="6" fill="#000"/>
<rect x="262" y="135" width="5" height="6" fill="#000"/>
<rect x="272" y="135" width="5" height="6" fill="#000"/>
<rect x="282" y="135" width="5" height="6" fill="#000"/>
<rect x="292" y="135" width="5" height="6" fill="#000"/>
<rect x="302" y="135" width="5" height="6" fill="#000"/>
<rect x="312" y="135" width="5" height="6" fill="#000"/>
<rect x="322" y="135" width="5" height="6" fill="#000"/>
<rect x="70" y="257" width="5" height="6" fill="#000"/>
<rect x="80" y="238" width="5" height="6" fill="#000"/>
<rect x="90" y="205" width="5" height="6" fill="#000"/>
<rect x="100" y="183" width="5" height="6" fill="#000"/>
<rect x="111" y="165" width="4" height="6" fill="#000"/>
<rect x="121" y="148" width="5" height="6" fill="#000"/>
<rect x="131" y="138" width="4" height="6" fill="#000"/>
<rect x="141" y="133" width="5" height="6" fill="#000"/>
<rect x="151" y="133" width="5" height="6" fill="#000"/>
<rect x="161" y="139" width="5" height="6" fill="#000"/>
<rect x="171" y="144" width="5" height="6" fill="#000"/>
<rect x="181" y="147" width="5" height="6" fill="#000"/>
<rect x="191" y="149" width="5" height="6" fill="#000"/>
<rect x="202" y="150" width="4" height="6" fill="#000"/>
<rect x="211" y="150" width="5" height="6" fill="#000"/>
<rect x="221" y="150" width="5" height="6" fill="#000"/>
<rect x="232" y="150" width="5" height="6" fill="#000"/>
<rect x="242" y="150" width="5" height="6" fill="#000"/>
<rect x="252" y="150" width="4" height="6" fill="#000"/>
<rect x="262" y="150" width="5" height="6" fill="#000"/>
<rect x="272" y="150" width="5" height="6" fill="#000"/>
<rect x="282" y="150" width="5" height="6" fill="#000"/>
<rect x="292" y="150" width="5" height="6" fill="#000"/>
<rect x="302" y="150" width="5" height="6" fill="#000"/>
<rect x="312" y="150" width="5" height="6" fill="#000"/>
<rect x="322" y="150" width="5" height="6" fill="#000"/>
<rect x="70" y="257" width="5" height="6" fill="#000"/>
<rect x="80" y="241" width="5" height="6" fill="#000"/>
<rect x="90" y="215" width="5" height="6" fill="#000"/>
<rect x="100" y="199" width="5" height="6" fill="#000"/>
<rect x="111" y="184" width="4" height="6" fill="#000"/>
<rect x="121" y="173" width="5" height="6" fill="#000"/>
<rect x="131" y="166" width="4" height="6" fill="#000"/>
<rect x="141" y="163" width="5" height="6" fill="#000"/>
<rect x="151" y="165" width="5" height="6" fill="#000"/>
<rect x="161" y="166" width="5" height="6" fill="#000"/>
<rect x="171" y="167" width="5" height="6" fill="#000"/>
<rect x="181" y="168" width="5" height="6" fill="#000"/>
<rect x="191" y="168" width="5" height="6" fill="#000"/>
<rect x="202" y="168" width="4" height="6" fill="#000"/>
<rect x="211" y="168" width="5" height="6" fill="#000"/>
<rect x="221" y="167" width="5" height="6" fill="#000"/>
<rect x="232" y="167" width="5" height="6" fill="#000"/>
<rect x="242" y="166" width="5" height="6" fill="#000"/>
<rect x="252" y="166" width="4" height="6" fill="#000"/>
<rect x="262" y="166" width="5" height="6" fill="#000"/>
<rect x="272" y="166" width="5" height="6" fill="#000"/>
<rect x="282" y="166" width="5" height="6" fill="#000"/>
<rect x="292" y="166" width="5" height="6" fill="#000"/>
<rect x="302" y="166" width="5" height="6" fill="#000"/>
<rect x="312" y="166" width="5" height="6" fill="#000"/>
<rect x="322" y="166" width="5" height="6" fill="#000"/>
<rect x="70" y="257" width="5" height="6" fill="#000"/>
<rect x="80" y="244" width="5" height="6" fill="#000"/>
<rect x="90" y="227" width="5" height="6" fill="#000"/>
<rect x="100" y="214" width="5" height="6" fill="#000"/>
<rect x="111" y="204" width="4" height="6" fill="#000"/>
<rect x="121" y="198" width="5" height="6" fill="#000"/>
<rect x="131" y="194" width="4" height="6" fill="#000"/>
<rect x="141" y="191" width="5" height="6" fill="#000"/>
<rect x="151" y="190" width="5" height="6" fill="#000"/>
<rect x="161" y="189" width="5" height="6" fill="#000"/>
<rect x="171" y="189" width="5" height="6" fill="#000"/>
<rect x="181" y="188" width="5" height="6" fill="#000"/>
<rect x="191" y="188" width="5" height="6" fill="#000"/>
<rect x="202" y="188" width="4" height="6" fill="#000"/>
<rect x="211" y="188" width="5" height="6" fill="#000"/>
<rect x="221" y="188" width="5" height="6" fill="#000"/>
<rect x="232" y="188" width="5" height="6" fill="#000"/>
<rect x="242" y="188" width="5" height="6" fill="#000"/>
<rect x="252" y="188" width="4" height="6" fill="#000"/>
<rect x="262" y="188" width="5" height="6" fill="#000"/>
<rect x="272" y="188" width="5" height="6" fill="#000"/>
<rect x="282" y="188" width="5" height="6" fill="#000"/>
<rect x="292" y="188" width="5" height="6" fill="#000"/>
<rect x="302" y="188" width="5" height="6" fill="#000"/>
<rect x="312" y="188" width="5" height="6" fill="#000"/>
<rect x="322" y="188" width="5" height="6" fill="#000"/>
<rect x="70" y="257" width="5" height="6" fill="#000"/>
<rect x="80" y="246" width="5" height="6" fill="#000"/>
<rect x="90" y="236" width="5" height="6" fill="#000"/>
<rect x="100" y="227" width="5" height="6" fill="#000"/>
<rect x="111" y="222" width="4" height="6" fill="#000"/>
<rect x="121" y="218" width="5" height="6" fill="#000"/>
<rect x="131" y="215" width="4" height="6" fill="#000"/>
<rect x="141" y="215" width="5" height="6" fill="#000"/>
<rect x="151" y="214" width="5" height="6" fill="#000"/>
<rect x="161" y="214" width="5" height="6" fill="#000"/>
<rect x="171" y="214" width="5" height="6" fill="#000"/>
<rect x="181" y="214" width="5" height="6" fill="#000"/>
<rect x="191" y="213" width="5" height="6" fill="#000"/>
<rect x="202" y="213" width="4" height="6" fill="#000"/>
<rect x="211" y="213" width="5" height="6" fill="#000"/>
<rect x="221" y="213" width="5" height="6" fill="#000"/>
<rect x="232" y="213" width="5" height="6" fill="#000"/>
<rect x="242" y="213" width="5" height="6" fill="#000"/>
<rect x="252" y="213" width="4" height="6" fill="#000"/>
<rect x="262" y="213" width="5" height="6" fill="#000"/>
<rect x="272" y="213" width="5" height="6" fill="#000"/>
<rect x="282" y="213" width="5" height="6" fill="#000"/>
<rect x="292" y="213" width="5" height="6" fill="#000"/>
<rect x="302" y="213" width="5" height="6" fill="#000"/>
<rect x="312" y="213" width="5" height="6" fill="#000"/>
<rect x="322" y="213" width="5" height="6" fill="#000"/>
<rect x="70" y="257" width="5" height="6" fill="#000"/>
<rect x="80" y="248" width="5" height="6" fill="#000"/>
<rect x="90" y="246" width="5" height="6" fill="#000"/>
<rect x="100" y="244" width="5" height="6" fill="#000"/>
<rect x="111" y="244" width="4" height="6" fill="#000"/>
<rect x="121" y="244" width="5" height="6" fill="#000"/>
<rect x="131" y="244" width="4" height="6" fill="#000"/>
<rect x="141" y="244" width="5" height="6" fill="#000"/>
<rect x="151" y="244" width="5" height="6" fill="#000"/>
<rect x="161" y="244" width="5" height="6" fill="#000"/>
<rect x="171" y="244" width="5" height="6" fill="#000"/>
<rect x="181" y="244" width="5" height="6" fill="#000"/>
<rect x="191" y="244" width="5" height="6" fill="#000"/>
<rect x="202" y="244" width="4" height="6" fill="#000"/>
<rect x="211" y="243" width="5" height="6" fill="#000"/>
<rect x="221" y="243" width="5" height="6" fill="#000"/>
<rect x="232" y="243" width="5" height="6" fill="#000"/>
<rect x="242" y="243" width="5" height="6" fill="#000"/>
<rect x="252" y="243" width="4" height="6" fill="#000"/>
<rect x="262" y="243" width="5" height="6" fill="#000"/>
<rect x="272" y="243" width="5" height="6" fill="#000"/>
<rect x="282" y="243" width="5" height="6" fill="#000"/>
<rect x="292" y="243" width="5" height="6" fill="#000"/>
<rect x="302" y="243" width="5" height="6" fill="#000"/>
<rect x="312" y="243" width="5" height="6" fill="#000"/>
<rect x="322" y="243" width="5" height="6" fill="#000"/>
<line x1="403.5" y1="1.5" x2="706.5" y2="1.5" stroke="#707070"/>
<line x1="403.5" y1="0.5" x2="706.5" y2="0.5" stroke="#e4e4e4"/>
<line x1="403.5" y1="1.5" x2="403.5" y2="280.5" stroke="#707070"/>
<line x1="706.5" y1="1.5" x2="706.5" y2="280.5" stroke="#000"/>
<line x1="403.5" y1="280.5" x2="550" y2="280.5" stroke="#707070"/>
<line x1="550" y1="280.5" x2="707.0" y2="280.5" stroke="#000"/>
<line x1="428.8" y1="280.5" x2="428.8" y2="274.5" stroke="#333"/>
<line x1="428.8" y1="1.5" x2="428.8" y2="7.5" stroke="#333"/>
<line x1="454.01" y1="280.5" x2="454.01" y2="277.0" stroke="#333"/>
<line x1="454.01" y1="1.5" x2="454.01" y2="5.0" stroke="#333"/>
<line x1="479.22" y1="280.5" x2="479.22" y2="274.5" stroke="#333"/>
<line x1="479.22" y1="1.5" x2="479.22" y2="7.5" stroke="#333"/>
<line x1="504.43" y1="280.5" x2="504.43" y2="277.0" stroke="#333"/>
<line x1="504.43" y1="1.5" x2="504.43" y2="5.0" stroke="#333"/>
<line x1="529.64" y1="280.5" x2="529.64" y2="274.5" stroke="#333"/>
<line x1="529.64" y1="1.5" x2="529.64" y2="7.5" stroke="#333"/>
<line x1="554.85" y1="280.5" x2="554.85" y2="277.0" stroke="#333"/>
<line x1="554.85" y1="1.5" x2="554.85" y2="5.0" stroke="#333"/>
<line x1="580.06" y1="280.5" x2="580.06" y2="274.5" stroke="#333"/>
<line x1="580.06" y1="1.5" x2="580.06" y2="7.5" stroke="#333"/>
<line x1="605.27" y1="280.5" x2="605.27" y2="277.0" stroke="#333"/>
<line x1="605.27" y1="1.5" x2="605.27" y2="5.0" stroke="#333"/>
<line x1="630.48" y1="280.5" x2="630.48" y2="274.5" stroke="#333"/>
<line x1="630.48" y1="1.5" x2="630.48" y2="7.5" stroke="#333"/>
<line x1="655.69" y1="280.5" x2="655.69" y2="277.0" stroke="#333"/>
<line x1="655.69" y1="1.5" x2="655.69" y2="5.0" stroke="#333"/>
<line x1="680.9000000000001" y1="280.5" x2="680.9000000000001" y2="274.5" stroke="#333"/>
<line x1="680.9000000000001" y1="1.5" x2="680.9000000000001" y2="7.5" stroke="#333"/>
<line x1="403.5" y1="257.45" x2="408.5" y2="257.45" stroke="#333"/>
<line x1="706.5" y1="257.45" x2="701.5" y2="257.45" stroke="#333"/>
<line x1="403.5" y1="234.19" x2="406.0" y2="234.19" stroke="#333"/>
<line x1="706.5" y1="234.19" x2="704.0" y2="234.19" stroke="#333"/>
<line x1="403.5" y1="210.92999999999998" x2="408.5" y2="210.92999999999998" stroke="#333"/>
<line x1="706.5" y1="210.92999999999998" x2="701.5" y2="210.92999999999998" stroke="#333"/>
<line x1="403.5" y1="187.67" x2="406.0" y2="187.67" stroke="#333"/>
<line x1="706.5" y1="187.67" x2="704.0" y2="187.67" stroke="#333"/>
<line x1="403.5" y1="164.40999999999997" x2="408.5" y2="164.40999999999997" stroke="#333"/>
<line x1="706.5" y1="164.40999999999997" x2="701.5" y2="164.40999999999997" stroke="#333"/>
<line x1="403.5" y1="141.14999999999998" x2="406.0" y2="141.14999999999998" stroke="#333"/>
<line x1="706.5" y1="141.14999999999998" x2="704.0" y2="141.14999999999998" stroke="#333"/>
<line x1="403.5" y1="117.89" x2="408.5" y2="117.89" stroke="#333"/>
<line x1="706.5" y1="117.89" x2="701.5" y2="117.89" stroke="#333"/>
<line x1="403.5" y1="94.62999999999998" x2="406.0" y2="94.62999999999998" stroke="#333"/>
<line x1="706.5" y1="94.62999999999998" x2="704.0" y2="94.62999999999998" stroke="#333"/>
<line x1="403.5" y1="71.36999999999999" x2="408.5" y2="71.36999999999999" stroke="#333"/>
<line x1="706.5" y1="71.36999999999999" x2="701.5" y2="71.36999999999999" stroke="#333"/>
<line x1="403.5" y1="48.11" x2="406.0" y2="48.11" stroke="#333"/>
<line x1="706.5" y1="48.11" x2="704.0" y2="48.11" stroke="#333"/>
<line x1="403.5" y1="24.849999999999977" x2="408.5" y2="24.849999999999977" stroke="#333"/>
<line x1="706.5" y1="24.849999999999977" x2="701.5" y2="24.849999999999977" stroke="#333"/>
<path d="M428.80,257.00 L429.80,255.12 L430.80,253.24 L431.80,251.36 L432.80,249.48 L433.80,247.61 L434.80,245.74 L435.80,243.87 L436.80,242.01 L437.80,240.16 L438.80,238.30 L439.80,236.46 L440.80,234.62 L441.80,232.78 L442.80,230.96 L443.80,229.14 L444.80,227.33 L445.80,225.53 L446.80,223.73 L447.80,221.95 L448.80,220.18 L449.80,218.41 L450.80,216.66 L451.80,214.92 L452.80,213.20 L453.80,211.48 L454.80,209.78 L455.80,208.09 L456.80,206.41 L457.80,204.75 L458.80,203.10 L459.80,201.47 L460.80,199.85 L461.80,198.24 L462.80,196.65 L463.80,195.07 L464.80,193.51 L465.80,191.95 L466.80,190.42 L467.80,188.89 L468.80,187.38 L469.80,185.89 L470.80,184.41 L471.80,182.94 L472.80,181.49 L473.80,180.05 L474.80,178.63 L475.80,177.22 L476.80,175.82 L477.80,174.44 L478.80,173.08 L479.80,171.72 L480.80,170.39 L481.80,169.07 L482.80,167.76 L483.80,166.47 L484.80,165.19 L485.80,163.92 L486.80,162.68 L487.80,161.44 L488.80,160.22 L489.80,159.02 L490.80,157.83 L491.80,156.66 L492.80,155.50 L493.80,154.36 L494.80,153.23 L495.80,152.11 L496.80,151.02 L497.80,149.93 L498.80,148.87 L499.80,147.81 L500.80,146.78 L501.80,145.75 L502.80,144.75 L503.80,143.75 L504.80,142.77 L505.80,141.81 L506.80,140.86 L507.80,139.92 L508.80,139.00 L509.80,138.09 L510.80,137.20 L511.80,136.32 L512.80,135.45 L513.80,134.60 L514.80,133.76 L515.80,132.93 L516.80,132.12 L517.80,131.32 L518.80,130.53 L519.80,129.76 L520.80,128.99 L521.80,128.25 L522.80,127.51 L523.80,126.79 L524.80,126.08 L525.80,125.38 L526.80,124.69 L527.80,124.02 L528.80,123.36 L529.80,122.71 L530.80,122.07 L531.80,121.44 L532.80,120.83 L533.80,120.23 L534.80,119.64 L535.80,119.06 L536.80,118.49 L537.80,117.93 L538.80,117.38 L539.80,116.85 L540.80,116.32 L541.80,115.81 L542.80,115.31 L543.80,114.82 L544.80,114.33 L545.80,113.86 L546.80,113.40 L547.80,112.95 L548.80,112.51 L549.80,112.08 L550.80,111.66 L551.80,111.25 L552.80,110.84 L553.80,110.45 L554.80,110.07 L555.80,109.70 L556.80,109.33 L557.80,108.98 L558.80,108.63 L559.80,108.30 L560.80,107.97 L561.80,107.65 L562.80,107.34 L563.80,107.04 L564.80,106.75 L565.80,106.46 L566.80,106.18 L567.80,105.92 L568.80,105.66 L569.80,105.40 L570.80,105.16 L571.80,104.92 L572.80,104.70 L573.80,104.47 L574.80,104.26 L575.80,104.06 L576.80,103.86 L577.80,103.67 L578.80,103.48 L579.80,103.30 L580.80,103.13 L581.80,102.97 L582.80,102.81 L583.80,102.66 L584.80,102.52 L585.80,102.38 L586.80,102.25 L587.80,102.12 L588.80,102.01 L589.80,101.89 L590.80,101.79 L591.80,101.68 L592.80,101.59 L593.80,101.50 L594.80,101.42 L595.80,101.34 L596.80,101.26 L597.80,101.19 L598.80,101.13 L599.80,101.07 L600.80,101.02 L601.80,100.97 L602.80,100.93 L603.80,100.89 L604.80,100.85 L605.80,100.82 L606.80,100.80 L607.80,100.78 L608.80,100.76 L609.80,100.75 L610.80,100.74 L611.80,100.73 L612.80,100.73 L613.80,100.73 L614.80,100.73 L615.80,100.74 L616.80,100.75 L617.80,100.77 L618.80,100.79 L619.80,100.81 L620.80,100.83 L621.80,100.86 L622.80,100.89 L623.80,100.92 L624.80,100.96 L625.80,100.99 L626.80,101.03 L627.80,101.08 L628.80,101.12 L629.80,101.17 L630.80,101.21 L631.80,101.26 L632.80,101.32 L633.80,101.37 L634.80,101.42 L635.80,101.48 L636.80,101.54 L637.80,101.60 L638.80,101.66 L639.80,101.72 L640.80,101.78 L641.80,101.84 L642.80,101.90 L643.80,101.97 L644.80,102.03 L645.80,102.10 L646.80,102.16 L647.80,102.23 L648.80,102.29 L649.80,102.36 L650.80,102.43 L651.80,102.49 L652.80,102.56 L653.80,102.62 L654.80,102.69 L655.80,102.75 L656.80,102.81 L657.80,102.87 L658.80,102.94 L659.80,103.00 L660.80,103.06 L661.80,103.11 L662.80,103.17 L663.80,103.23 L664.80,103.28 L665.80,103.34 L666.80,103.39 L667.80,103.44 L668.80,103.48 L669.80,103.53 L670.80,103.57 L671.80,103.61 L672.80,103.65 L673.80,103.69 L674.80,103.72 L675.80,103.76 L676.80,103.79 L677.80,103.81 L678.80,103.84 L679.80,103.86 L680.80,103.87 L680.90,103.87" fill="none" stroke="#000" stroke-width="1.5" stroke-linejoin="round"/>
<path d="M428.80,257.00 L429.80,255.23 L430.80,253.46 L431.80,251.70 L432.80,249.94 L433.80,248.18 L434.80,246.43 L435.80,244.69 L436.80,242.95 L437.80,241.22 L438.80,239.49 L439.80,237.77 L440.80,236.05 L441.80,234.34 L442.80,232.64 L443.80,230.94 L444.80,229.26 L445.80,227.58 L446.80,225.90 L447.80,224.24 L448.80,222.58 L449.80,220.94 L450.80,219.30 L451.80,217.67 L452.80,216.05 L453.80,214.44 L454.80,212.84 L455.80,211.25 L456.80,209.67 L457.80,208.10 L458.80,206.55 L459.80,205.00 L460.80,203.47 L461.80,201.94 L462.80,200.43 L463.80,198.93 L464.80,197.44 L465.80,195.97 L466.80,194.51 L467.80,193.06 L468.80,191.62 L469.80,190.20 L470.80,188.79 L471.80,187.40 L472.80,186.02 L473.80,184.66 L474.80,183.31 L475.80,181.97 L476.80,180.65 L477.80,179.35 L478.80,178.06 L479.80,176.78 L480.80,175.52 L481.80,174.28 L482.80,173.05 L483.80,171.84 L484.80,170.64 L485.80,169.46 L486.80,168.30 L487.80,167.15 L488.80,166.02 L489.80,164.91 L490.80,163.81 L491.80,162.73 L492.80,161.67 L493.80,160.62 L494.80,159.59 L495.80,158.57 L496.80,157.58 L497.80,156.60 L498.80,155.64 L499.80,154.70 L500.80,153.77 L501.80,152.86 L502.80,151.97 L503.80,151.10 L504.80,150.24 L505.80,149.40 L506.80,148.58 L507.80,147.78 L508.80,146.99 L509.80,146.21 L510.80,145.45 L511.80,144.71 L512.80,143.99 L513.80,143.28 L514.80,142.58 L515.80,141.90 L516.80,141.24 L517.80,140.59 L518.80,139.95 L519.80,139.33 L520.80,138.73 L521.80,138.14 L522.80,137.56 L523.80,137.00 L524.80,136.45 L525.80,135.91 L526.80,135.39 L527.80,134.88 L528.80,134.38 L529.80,133.90 L530.80,133.43 L531.80,132.97 L532.80,132.53 L533.80,132.09 L534.80,131.67 L535.80,131.26 L536.80,130.86 L537.80,130.47 L538.80,130.09 L539.80,129.73 L540.80,129.37 L541.80,129.02 L542.80,128.68 L543.80,128.36 L544.80,128.04 L545.80,127.73 L546.80,127.43 L547.80,127.14 L548.80,126.85 L549.80,126.58 L550.80,126.31 L551.80,126.05 L552.80,125.79 L553.80,125.55 L554.80,125.31 L555.80,125.08 L556.80,124.85 L557.80,124.63 L558.80,124.42 L559.80,124.21 L560.80,124.00 L561.80,123.80 L562.80,123.61 L563.80,123.42 L564.80,123.24 L565.80,123.06 L566.80,122.89 L567.80,122.72 L568.80,122.56 L569.80,122.40 L570.80,122.24 L571.80,122.09 L572.80,121.95 L573.80,121.81 L574.80,121.67 L575.80,121.54 L576.80,121.41 L577.80,121.29 L578.80,121.17 L579.80,121.05 L580.80,120.94 L581.80,120.83 L582.80,120.73 L583.80,120.63 L584.80,120.53 L585.80,120.44 L586.80,120.35 L587.80,120.26 L588.80,120.18 L589.80,120.10 L590.80,120.02 L591.80,119.95 L592.80,119.88 L593.80,119.82 L594.80,119.75 L595.80,119.69 L596.80,119.63 L597.80,119.58 L598.80,119.53 L599.80,119.48 L600.80,119.43 L601.80,119.39 L602.80,119.34 L603.80,119.30 L604.80,119.27 L605.80,119.23 L606.80,119.20 L607.80,119.17 L608.80,119.14 L609.80,119.12 L610.80,119.09 L611.80,119.07 L612.80,119.05 L613.80,119.03 L614.80,119.01 L615.80,118.99 L616.80,118.98 L617.80,118.97 L618.80,118.96 L619.80,118.95 L620.80,118.94 L621.80,118.93 L622.80,118.92 L623.80,118.92 L624.80,118.91 L625.80,118.91 L626.80,118.91 L627.80,118.90 L628.80,118.90 L629.80,118.90 L630.80,118.90 L631.80,118.90 L632.80,118.90 L633.80,118.91 L634.80,118.91 L635.80,118.91 L636.80,118.91 L637.80,118.91 L638.80,118.92 L639.80,118.92 L640.80,118.92 L641.80,118.92 L642.80,118.92 L643.80,118.93 L644.80,118.93 L645.80,118.93 L646.80,118.93 L647.80,118.93 L648.80,118.93 L649.80,118.93 L650.80,118.92 L651.80,118.92 L652.80,118.92 L653.80,118.91 L654.80,118.90 L655.80,118.90 L656.80,118.89 L657.80,118.88 L658.80,118.87 L659.80,118.86 L660.80,118.84 L661.80,118.83 L662.80,118.81 L663.80,118.79 L664.80,118.77 L665.80,118.75 L666.80,118.73 L667.80,118.70 L668.80,118.67 L669.80,118.64 L670.80,118.61 L671.80,118.58 L672.80,118.54 L673.80,118.50 L674.80,118.46 L675.80,118.42 L676.80,118.37 L677.80,118.32 L678.80,118.27 L679.80,118.22 L680.80,118.16 L680.90,118.16" fill="none" stroke="#000" stroke-width="1.5" stroke-linejoin="round"/>
<path d="M428.80,257.00 L429.80,255.36 L430.80,253.73 L431.80,252.10 L432.80,250.47 L433.80,248.84 L434.80,247.22 L435.80,245.60 L436.80,243.98 L437.80,242.37 L438.80,240.76 L439.80,239.16 L440.80,237.57 L441.80,235.98 L442.80,234.39 L443.80,232.81 L444.80,231.24 L445.80,229.68 L446.80,228.12 L447.80,226.57 L448.80,225.03 L449.80,223.50 L450.80,221.98 L451.80,220.46 L452.80,218.96 L453.80,217.47 L454.80,215.99 L455.80,214.52 L456.80,213.08 L457.80,211.65 L458.80,210.25 L459.80,208.87 L460.80,207.51 L461.80,206.17 L462.80,204.86 L463.80,203.56 L464.80,202.29 L465.80,201.04 L466.80,199.80 L467.80,198.59 L468.80,197.39 L469.80,196.21 L470.80,195.04 L471.80,193.89 L472.80,192.75 L473.80,191.63 L474.80,190.52 L475.80,189.43 L476.80,188.34 L477.80,187.27 L478.80,186.20 L479.80,185.14 L480.80,184.10 L481.80,183.06 L482.80,182.02 L483.80,181.00 L484.80,179.97 L485.80,178.96 L486.80,177.95 L487.80,176.96 L488.80,175.98 L489.80,175.01 L490.80,174.06 L491.80,173.14 L492.80,172.24 L493.80,171.37 L494.80,170.52 L495.80,169.71 L496.80,168.93 L497.80,168.19 L498.80,167.49 L499.80,166.82 L500.80,166.17 L501.80,165.56 L502.80,164.96 L503.80,164.39 L504.80,163.83 L505.80,163.29 L506.80,162.75 L507.80,162.23 L508.80,161.72 L509.80,161.23 L510.80,160.74 L511.80,160.27 L512.80,159.80 L513.80,159.35 L514.80,158.91 L515.80,158.48 L516.80,158.05 L517.80,157.64 L518.80,157.24 L519.80,156.85 L520.80,156.46 L521.80,156.08 L522.80,155.72 L523.80,155.36 L524.80,155.01 L525.80,154.66 L526.80,154.33 L527.80,154.00 L528.80,153.68 L529.80,153.37 L530.80,153.06 L531.80,152.76 L532.80,152.46 L533.80,152.17 L534.80,151.89 L535.80,151.61 L536.80,151.34 L537.80,151.07 L538.80,150.81 L539.80,150.55 L540.80,150.30 L541.80,150.05 L542.80,149.80 L543.80,149.56 L544.80,149.33 L545.80,149.10 L546.80,148.87 L547.80,148.65 L548.80,148.43 L549.80,148.22 L550.80,148.01 L551.80,147.80 L552.80,147.60 L553.80,147.41 L554.80,147.21 L555.80,147.02 L556.80,146.84 L557.80,146.66 L558.80,146.48 L559.80,146.31 L560.80,146.14 L561.80,145.97 L562.80,145.81 L563.80,145.65 L564.80,145.50 L565.80,145.35 L566.80,145.20 L567.80,145.06 L568.80,144.92 L569.80,144.78 L570.80,144.65 L571.80,144.52 L572.80,144.39 L573.80,144.26 L574.80,144.14 L575.80,144.03 L576.80,143.91 L577.80,143.80 L578.80,143.69 L579.80,143.59 L580.80,143.48 L581.80,143.38 L582.80,143.29 L583.80,143.19 L584.80,143.10 L585.80,143.01 L586.80,142.92 L587.80,142.84 L588.80,142.76 L589.80,142.68 L590.80,142.60 L591.80,142.53 L592.80,142.46 L593.80,142.39 L594.80,142.32 L595.80,142.26 L596.80,142.19 L597.80,142.13 L598.80,142.07 L599.80,142.02 L600.80,141.96 L601.80,141.91 L602.80,141.86 L603.80,141.81 L604.80,141.76 L605.80,141.72 L606.80,141.67 L607.80,141.63 L608.80,141.59 L609.80,141.55 L610.80,141.51 L611.80,141.48 L612.80,141.44 L613.80,141.41 L614.80,141.38 L615.80,141.35 L616.80,141.32 L617.80,141.29 L618.80,141.27 L619.80,141.24 L620.80,141.22 L621.80,141.19 L622.80,141.17 L623.80,141.15 L624.80,141.13 L625.80,141.11 L626.80,141.09 L627.80,141.07 L628.80,141.05 L629.80,141.04 L630.80,141.02 L631.80,141.00 L632.80,140.99 L633.80,140.97 L634.80,140.96 L635.80,140.95 L636.80,140.93 L637.80,140.92 L638.80,140.91 L639.80,140.89 L640.80,140.88 L641.80,140.87 L642.80,140.86 L643.80,140.85 L644.80,140.83 L645.80,140.82 L646.80,140.81 L647.80,140.80 L648.80,140.78 L649.80,140.77 L650.80,140.76 L651.80,140.74 L652.80,140.73 L653.80,140.72 L654.80,140.70 L655.80,140.68 L656.80,140.67 L657.80,140.65 L658.80,140.64 L659.80,140.62 L660.80,140.60 L661.80,140.58 L662.80,140.56 L663.80,140.54 L664.80,140.52 L665.80,140.49 L666.80,140.47 L667.80,140.44 L668.80,140.42 L669.80,140.39 L670.80,140.36 L671.80,140.33 L672.80,140.30 L673.80,140.27 L674.80,140.24 L675.80,140.20 L676.80,140.17 L677.80,140.13 L678.80,140.09 L679.80,140.05 L680.80,140.00 L680.90,140.00" fill="none" stroke="#000" stroke-width="1.5" stroke-linejoin="round"/>
<path d="M428.80,257.01 L429.80,255.44 L430.80,253.88 L431.80,252.34 L432.80,250.80 L433.80,249.27 L434.80,247.75 L435.80,246.24 L436.80,244.74 L437.80,243.26 L438.80,241.78 L439.80,240.33 L440.80,238.88 L441.80,237.45 L442.80,236.04 L443.80,234.64 L444.80,233.26 L445.80,231.89 L446.80,230.55 L447.80,229.22 L448.80,227.91 L449.80,226.62 L450.80,225.35 L451.80,224.10 L452.80,222.88 L453.80,221.67 L454.80,220.48 L455.80,219.31 L456.80,218.16 L457.80,217.03 L458.80,215.92 L459.80,214.82 L460.80,213.74 L461.80,212.68 L462.80,211.64 L463.80,210.61 L464.80,209.59 L465.80,208.59 L466.80,207.61 L467.80,206.64 L468.80,205.69 L469.80,204.75 L470.80,203.82 L471.80,202.91 L472.80,202.01 L473.80,201.12 L474.80,200.25 L475.80,199.40 L476.80,198.56 L477.80,197.74 L478.80,196.93 L479.80,196.14 L480.80,195.37 L481.80,194.61 L482.80,193.88 L483.80,193.15 L484.80,192.45 L485.80,191.77 L486.80,191.10 L487.80,190.45 L488.80,189.82 L489.80,189.21 L490.80,188.62 L491.80,188.05 L492.80,187.50 L493.80,186.97 L494.80,186.46 L495.80,185.97 L496.80,185.49 L497.80,185.03 L498.80,184.59 L499.80,184.16 L500.80,183.75 L501.80,183.36 L502.80,182.98 L503.80,182.62 L504.80,182.26 L505.80,181.92 L506.80,181.60 L507.80,181.28 L508.80,180.98 L509.80,180.69 L510.80,180.41 L511.80,180.14 L512.80,179.87 L513.80,179.62 L514.80,179.38 L515.80,179.14 L516.80,178.91 L517.80,178.68 L518.80,178.47 L519.80,178.25 L520.80,178.05 L521.80,177.85 L522.80,177.65 L523.80,177.45 L524.80,177.26 L525.80,177.07 L526.80,176.88 L527.80,176.70 L528.80,176.52 L529.80,176.34 L530.80,176.16 L531.80,175.98 L532.80,175.81 L533.80,175.64 L534.80,175.47 L535.80,175.31 L536.80,175.14 L537.80,174.98 L538.80,174.82 L539.80,174.67 L540.80,174.51 L541.80,174.36 L542.80,174.21 L543.80,174.06 L544.80,173.92 L545.80,173.77 L546.80,173.63 L547.80,173.49 L548.80,173.35 L549.80,173.22 L550.80,173.09 L551.80,172.96 L552.80,172.83 L553.80,172.70 L554.80,172.57 L555.80,172.45 L556.80,172.33 L557.80,172.21 L558.80,172.09 L559.80,171.98 L560.80,171.87 L561.80,171.75 L562.80,171.64 L563.80,171.54 L564.80,171.43 L565.80,171.33 L566.80,171.22 L567.80,171.12 L568.80,171.03 L569.80,170.93 L570.80,170.83 L571.80,170.74 L572.80,170.65 L573.80,170.56 L574.80,170.47 L575.80,170.38 L576.80,170.30 L577.80,170.22 L578.80,170.14 L579.80,170.06 L580.80,169.98 L581.80,169.90 L582.80,169.83 L583.80,169.75 L584.80,169.68 L585.80,169.61 L586.80,169.54 L587.80,169.47 L588.80,169.41 L589.80,169.34 L590.80,169.28 L591.80,169.22 L592.80,169.16 L593.80,169.10 L594.80,169.04 L595.80,168.99 L596.80,168.93 L597.80,168.88 L598.80,168.83 L599.80,168.78 L600.80,168.73 L601.80,168.68 L602.80,168.63 L603.80,168.59 L604.80,168.54 L605.80,168.50 L606.80,168.46 L607.80,168.42 L608.80,168.38 L609.80,168.34 L610.80,168.30 L611.80,168.27 L612.80,168.23 L613.80,168.20 L614.80,168.17 L615.80,168.13 L616.80,168.10 L617.80,168.07 L618.80,168.05 L619.80,168.02 L620.80,167.99 L621.80,167.97 L622.80,167.94 L623.80,167.92 L624.80,167.90 L625.80,167.88 L626.80,167.85 L627.80,167.83 L628.80,167.82 L629.80,167.80 L630.80,167.78 L631.80,167.76 L632.80,167.75 L633.80,167.73 L634.80,167.72 L635.80,167.71 L636.80,167.69 L637.80,167.68 L638.80,167.67 L639.80,167.66 L640.80,167.65 L641.80,167.64 L642.80,167.63 L643.80,167.63 L644.80,167.62 L645.80,167.61 L646.80,167.61 L647.80,167.60 L648.80,167.60 L649.80,167.59 L650.80,167.59 L651.80,167.59 L652.80,167.59 L653.80,167.58 L654.80,167.58 L655.80,167.58 L656.80,167.58 L657.80,167.58 L658.80,167.58 L659.80,167.58 L660.80,167.58 L661.80,167.58 L662.80,167.59 L663.80,167.59 L664.80,167.59 L665.80,167.59 L666.80,167.60 L667.80,167.60 L668.80,167.60 L669.80,167.61 L670.80,167.61 L671.80,167.61 L672.80,167.62 L673.80,167.62 L674.80,167.63 L675.80,167.63 L676.80,167.64 L677.80,167.64 L678.80,167.65 L679.80,167.66 L680.80,167.66 L680.90,167.66" fill="none" stroke="#000" stroke-width="1.5" stroke-linejoin="round"/>
<path d="M428.80,257.00 L429.80,255.48 L430.80,253.96 L431.80,252.45 L432.80,250.94 L433.80,249.43 L434.80,247.94 L435.80,246.46 L436.80,244.99 L437.80,243.54 L438.80,242.10 L439.80,240.69 L440.80,239.29 L441.80,237.92 L442.80,236.58 L443.80,235.25 L444.80,233.96 L445.80,232.69 L446.80,231.45 L447.80,230.24 L448.80,229.06 L449.80,227.91 L450.80,226.98 L451.80,226.12 L452.80,225.32 L453.80,224.56 L454.80,223.84 L455.80,223.15 L456.80,222.47 L457.80,221.80 L458.80,221.13 L459.80,220.48 L460.80,219.84 L461.80,219.21 L462.80,218.60 L463.80,218.00 L464.80,217.41 L465.80,216.84 L466.80,216.28 L467.80,215.74 L468.80,215.21 L469.80,214.69 L470.80,214.18 L471.80,213.68 L472.80,213.20 L473.80,212.73 L474.80,212.26 L475.80,211.82 L476.80,211.38 L477.80,210.96 L478.80,210.56 L479.80,210.16 L480.80,209.76 L481.80,209.37 L482.80,208.99 L483.80,208.62 L484.80,208.27 L485.80,207.95 L486.80,207.65 L487.80,207.39 L488.80,207.17 L489.80,206.95 L490.80,206.74 L491.80,206.54 L492.80,206.35 L493.80,206.17 L494.80,205.99 L495.80,205.82 L496.80,205.66 L497.80,205.50 L498.80,205.34 L499.80,205.19 L500.80,205.05 L501.80,204.91 L502.80,204.78 L503.80,204.64 L504.80,204.51 L505.80,204.39 L506.80,204.26 L507.80,204.14 L508.80,204.01 L509.80,203.89 L510.80,203.77 L511.80,203.65 L512.80,203.53 L513.80,203.41 L514.80,203.29 L515.80,203.17 L516.80,203.05 L517.80,202.93 L518.80,202.81 L519.80,202.70 L520.80,202.59 L521.80,202.48 L522.80,202.37 L523.80,202.26 L524.80,202.15 L525.80,202.05 L526.80,201.95 L527.80,201.85 L528.80,201.76 L529.80,201.67 L530.80,201.58 L531.80,201.49 L532.80,201.41 L533.80,201.33 L534.80,201.26 L535.80,201.19 L536.80,201.12 L537.80,201.06 L538.80,200.99 L539.80,200.93 L540.80,200.87 L541.80,200.81 L542.80,200.75 L543.80,200.69 L544.80,200.64 L545.80,200.58 L546.80,200.52 L547.80,200.47 L548.80,200.42 L549.80,200.36 L550.80,200.31 L551.80,200.26 L552.80,200.21 L553.80,200.16 L554.80,200.12 L555.80,200.07 L556.80,200.03 L557.80,199.98 L558.80,199.94 L559.80,199.90 L560.80,199.86 L561.80,199.82 L562.80,199.78 L563.80,199.74 L564.80,199.70 L565.80,199.67 L566.80,199.63 L567.80,199.60 L568.80,199.57 L569.80,199.54 L570.80,199.51 L571.80,199.48 L572.80,199.45 L573.80,199.43 L574.80,199.40 L575.80,199.38 L576.80,199.36 L577.80,199.33 L578.80,199.31 L579.80,199.29 L580.80,199.27 L581.80,199.24 L582.80,199.22 L583.80,199.20 L584.80,199.17 L585.80,199.15 L586.80,199.13 L587.80,199.11 L588.80,199.09 L589.80,199.06 L590.80,199.04 L591.80,199.02 L592.80,199.00 L593.80,198.98 L594.80,198.96 L595.80,198.93 L596.80,198.91 L597.80,198.89 L598.80,198.87 L599.80,198.85 L600.80,198.83 L601.80,198.81 L602.80,198.79 L603.80,198.77 L604.80,198.75 L605.80,198.73 L606.80,198.71 L607.80,198.69 L608.80,198.67 L609.80,198.65 L610.80,198.63 L611.80,198.62 L612.80,198.60 L613.80,198.58 L614.80,198.56 L615.80,198.54 L616.80,198.52 L617.80,198.51 L618.80,198.49 L619.80,198.47 L620.80,198.46 L621.80,198.44 L622.80,198.42 L623.80,198.41 L624.80,198.39 L625.80,198.37 L626.80,198.36 L627.80,198.34 L628.80,198.33 L629.80,198.31 L630.80,198.30 L631.80,198.28 L632.80,198.27 L633.80,198.25 L634.80,198.24 L635.80,198.23 L636.80,198.21 L637.80,198.20 L638.80,198.19 L639.80,198.17 L640.80,198.16 L641.80,198.15 L642.80,198.14 L643.80,198.13 L644.80,198.11 L645.80,198.10 L646.80,198.09 L647.80,198.08 L648.80,198.07 L649.80,198.06 L650.80,198.05 L651.80,198.04 L652.80,198.03 L653.80,198.02 L654.80,198.01 L655.80,198.01 L656.80,198.00 L657.80,197.99 L658.80,197.98 L659.80,197.98 L660.80,197.97 L661.80,197.96 L662.80,197.96 L663.80,197.95 L664.80,197.94 L665.80,197.94 L666.80,197.93 L667.80,197.93 L668.80,197.93 L669.80,197.92 L670.80,197.92 L671.80,197.91 L672.80,197.91 L673.80,197.91 L674.80,197.91 L675.80,197.90 L676.80,197.90 L677.80,197.90 L678.80,197.90 L679.80,197.90 L680.80,197.90 L680.90,197.90" fill="none" stroke="#000" stroke-width="1.5" stroke-linejoin="round"/>
<path d="M428.80,257.00 L429.80,255.84 L430.80,254.69 L431.80,253.54 L432.80,252.40 L433.80,251.28 L434.80,250.17 L435.80,249.09 L436.80,248.02 L437.80,246.98 L438.80,245.97 L439.80,244.99 L440.80,244.10 L441.80,243.22 L442.80,242.35 L443.80,241.51 L444.80,240.69 L445.80,239.91 L446.80,239.18 L447.80,238.50 L448.80,237.89 L449.80,237.35 L450.80,236.86 L451.80,236.40 L452.80,235.95 L453.80,235.52 L454.80,235.12 L455.80,234.74 L456.80,234.38 L457.80,234.04 L458.80,233.73 L459.80,233.44 L460.80,233.17 L461.80,232.93 L462.80,232.72 L463.80,232.51 L464.80,232.31 L465.80,232.11 L466.80,231.92 L467.80,231.73 L468.80,231.55 L469.80,231.38 L470.80,231.21 L471.80,231.05 L472.80,230.89 L473.80,230.74 L474.80,230.60 L475.80,230.46 L476.80,230.33 L477.80,230.20 L478.80,230.08 L479.80,229.96 L480.80,229.85 L481.80,229.75 L482.80,229.66 L483.80,229.57 L484.80,229.48 L485.80,229.40 L486.80,229.33 L487.80,229.27 L488.80,229.20 L489.80,229.14 L490.80,229.08 L491.80,229.03 L492.80,228.97 L493.80,228.92 L494.80,228.87 L495.80,228.81 L496.80,228.76 L497.80,228.72 L498.80,228.67 L499.80,228.63 L500.80,228.58 L501.80,228.54 L502.80,228.50 L503.80,228.46 L504.80,228.42 L505.80,228.38 L506.80,228.34 L507.80,228.31 L508.80,228.27 L509.80,228.24 L510.80,228.21 L511.80,228.17 L512.80,228.14 L513.80,228.11 L514.80,228.08 L515.80,228.05 L516.80,228.02 L517.80,227.99 L518.80,227.96 L519.80,227.93 L520.80,227.91 L521.80,227.88 L522.80,227.85 L523.80,227.82 L524.80,227.80 L525.80,227.77 L526.80,227.74 L527.80,227.72 L528.80,227.69 L529.80,227.66 L530.80,227.64 L531.80,227.61 L532.80,227.58 L533.80,227.56 L534.80,227.53 L535.80,227.50 L536.80,227.48 L537.80,227.45 L538.80,227.43 L539.80,227.40 L540.80,227.38 L541.80,227.35 L542.80,227.33 L543.80,227.30 L544.80,227.28 L545.80,227.26 L546.80,227.23 L547.80,227.21 L548.80,227.19 L549.80,227.17 L550.80,227.14 L551.80,227.12 L552.80,227.10 L553.80,227.08 L554.80,227.06 L555.80,227.04 L556.80,227.02 L557.80,227.01 L558.80,226.99 L559.80,226.97 L560.80,226.96 L561.80,226.94 L562.80,226.93 L563.80,226.91 L564.80,226.90 L565.80,226.88 L566.80,226.87 L567.80,226.86 L568.80,226.85 L569.80,226.84 L570.80,226.83 L571.80,226.82 L572.80,226.81 L573.80,226.81 L574.80,226.80 L575.80,226.80 L576.80,226.79 L577.80,226.78 L578.80,226.78 L579.80,226.77 L580.80,226.77 L581.80,226.76 L582.80,226.76 L583.80,226.75 L584.80,226.75 L585.80,226.74 L586.80,226.74 L587.80,226.73 L588.80,226.73 L589.80,226.72 L590.80,226.72 L591.80,226.72 L592.80,226.71 L593.80,226.71 L594.80,226.70 L595.80,226.70 L596.80,226.69 L597.80,226.69 L598.80,226.68 L599.80,226.68 L600.80,226.67 L601.80,226.67 L602.80,226.67 L603.80,226.66 L604.80,226.66 L605.80,226.65 L606.80,226.65 L607.80,226.65 L608.80,226.64 L609.80,226.64 L610.80,226.63 L611.80,226.63 L612.80,226.63 L613.80,226.62 L614.80,226.62 L615.80,226.62 L616.80,226.61 L617.80,226.61 L618.80,226.61 L619.80,226.60 L620.80,226.60 L621.80,226.60 L622.80,226.59 L623.80,226.59 L624.80,226.59 L625.80,226.58 L626.80,226.58 L627.80,226.58 L628.80,226.58 L629.80,226.57 L630.80,226.57 L631.80,226.57 L632.80,226.56 L633.80,226.56 L634.80,226.56 L635.80,226.56 L636.80,226.55 L637.80,226.55 L638.80,226.55 L639.80,226.55 L640.80,226.55 L641.80,226.54 L642.80,226.54 L643.80,226.54 L644.80,226.54 L645.80,226.53 L646.80,226.53 L647.80,226.53 L648.80,226.53 L649.80,226.53 L650.80,226.53 L651.80,226.52 L652.80,226.52 L653.80,226.52 L654.80,226.52 L655.80,226.52 L656.80,226.52 L657.80,226.52 L658.80,226.51 L659.80,226.51 L660.80,226.51 L661.80,226.51 L662.80,226.51 L663.80,226.51 L664.80,226.51 L665.80,226.51 L666.80,226.51 L667.80,226.50 L668.80,226.50 L669.80,226.50 L670.80,226.50 L671.80,226.50 L672.80,226.50 L673.80,226.50 L674.80,226.50 L675.80,226.50 L676.80,226.50 L677.80,226.50 L678.80,226.50 L679.80,226.50 L680.80,226.50 L680.90,226.50" fill="none" stroke="#000" stroke-width="1.5" stroke-linejoin="round"/>
<path d="M428.80,257.00 L429.80,256.38 L430.80,255.77 L431.80,255.17 L432.80,254.59 L433.80,254.03 L434.80,253.49 L435.80,252.98 L436.80,252.51 L437.80,252.06 L438.80,251.65 L439.80,251.27 L440.80,251.02 L441.80,250.78 L442.80,250.55 L443.80,250.34 L444.80,250.13 L445.80,249.94 L446.80,249.77 L447.80,249.60 L448.80,249.45 L449.80,249.31 L450.80,249.18 L451.80,249.07 L452.80,248.97 L453.80,248.88 L454.80,248.81 L455.80,248.74 L456.80,248.68 L457.80,248.62 L458.80,248.56 L459.80,248.50 L460.80,248.45 L461.80,248.40 L462.80,248.35 L463.80,248.30 L464.80,248.26 L465.80,248.22 L466.80,248.18 L467.80,248.15 L468.80,248.12 L469.80,248.09 L470.80,248.06 L471.80,248.04 L472.80,248.02 L473.80,248.01 L474.80,248.00 L475.80,247.99 L476.80,247.98 L477.80,247.97 L478.80,247.97 L479.80,247.96 L480.80,247.95 L481.80,247.94 L482.80,247.93 L483.80,247.92 L484.80,247.92 L485.80,247.91 L486.80,247.90 L487.80,247.89 L488.80,247.89 L489.80,247.88 L490.80,247.87 L491.80,247.87 L492.80,247.86 L493.80,247.85 L494.80,247.84 L495.80,247.84 L496.80,247.83 L497.80,247.83 L498.80,247.82 L499.80,247.81 L500.80,247.81 L501.80,247.80 L502.80,247.79 L503.80,247.79 L504.80,247.78 L505.80,247.78 L506.80,247.77 L507.80,247.77 L508.80,247.76 L509.80,247.76 L510.80,247.75 L511.80,247.75 L512.80,247.74 L513.80,247.74 L514.80,247.73 L515.80,247.73 L516.80,247.72 L517.80,247.72 L518.80,247.71 L519.80,247.71 L520.80,247.70 L521.80,247.70 L522.80,247.70 L523.80,247.69 L524.80,247.69 L525.80,247.69 L526.80,247.68 L527.80,247.68 L528.80,247.67 L529.80,247.67 L530.80,247.67 L531.80,247.66 L532.80,247.66 L533.80,247.66 L534.80,247.66 L535.80,247.65 L536.80,247.65 L537.80,247.65 L538.80,247.64 L539.80,247.64 L540.80,247.64 L541.80,247.64 L542.80,247.63 L543.80,247.63 L544.80,247.63 L545.80,247.63 L546.80,247.63 L547.80,247.62 L548.80,247.62 L549.80,247.62 L550.80,247.62 L551.80,247.62 L552.80,247.62 L553.80,247.61 L554.80,247.61 L555.80,247.61 L556.80,247.61 L557.80,247.61 L558.80,247.61 L559.80,247.61 L560.80,247.61 L561.80,247.61 L562.80,247.60 L563.80,247.60 L564.80,247.60 L565.80,247.60 L566.80,247.60 L567.80,247.60 L568.80,247.60 L569.80,247.60 L570.80,247.60 L571.80,247.60 L572.80,247.60 L573.80,247.60 L574.80,247.60 L575.80,247.60 L576.80,247.60 L577.80,247.60 L578.80,247.60 L579.80,247.60 L580.80,247.60 L581.80,247.60 L582.80,247.60 L583.80,247.60 L584.80,247.60 L585.80,247.60 L586.80,247.60 L587.80,247.60 L588.80,247.60 L589.80,247.60 L590.80,247.60 L591.80,247.60 L592.80,247.60 L593.80,247.60 L594.80,247.60 L595.80,247.60 L596.80,247.60 L597.80,247.60 L598.80,247.60 L599.80,247.60 L600.80,247.60 L601.80,247.60 L602.80,247.60 L603.80,247.60 L604.80,247.60 L605.80,247.60 L606.80,247.60 L607.80,247.60 L608.80,247.60 L609.80,247.60 L610.80,247.60 L611.80,247.60 L612.80,247.60 L613.80,247.60 L614.80,247.60 L615.80,247.60 L616.80,247.60 L617.80,247.60 L618.80,247.60 L619.80,247.60 L620.80,247.60 L621.80,247.60 L622.80,247.60 L623.80,247.60 L624.80,247.60 L625.80,247.60 L626.80,247.60 L627.80,247.60 L628.80,247.60 L629.80,247.60 L630.80,247.60 L631.80,247.60 L632.80,247.60 L633.80,247.60 L634.80,247.60 L635.80,247.60 L636.80,247.60 L637.80,247.60 L638.80,247.60 L639.80,247.60 L640.80,247.60 L641.80,247.60 L642.80,247.60 L643.80,247.60 L644.80,247.60 L645.80,247.60 L646.80,247.60 L647.80,247.60 L648.80,247.60 L649.80,247.60 L650.80,247.60 L651.80,247.60 L652.80,247.60 L653.80,247.60 L654.80,247.60 L655.80,247.60 L656.80,247.60 L657.80,247.60 L658.80,247.60 L659.80,247.60 L660.80,247.60 L661.80,247.60 L662.80,247.60 L663.80,247.60 L664.80,247.60 L665.80,247.60 L666.80,247.60 L667.80,247.60 L668.80,247.60 L669.80,247.60 L670.80,247.60 L671.80,247.60 L672.80,247.60 L673.80,247.60 L674.80,247.60 L675.80,247.60 L676.80,247.60 L677.80,247.60 L678.80,247.60 L679.80,247.60 L680.80,247.60 L680.90,247.60" fill="none" stroke="#000" stroke-width="1.5" stroke-linejoin="round"/>
<rect x="426" y="254" width="5" height="6" fill="#000"/>
<rect x="436" y="225" width="5" height="6" fill="#000"/>
<rect x="446" y="186" width="5" height="6" fill="#000"/>
<rect x="457" y="150" width="5" height="6" fill="#000"/>
<rect x="467" y="117" width="5" height="6" fill="#000"/>
<rect x="477" y="85" width="4" height="6" fill="#000"/>
<rect x="487" y="59" width="5" height="6" fill="#000"/>
<rect x="497" y="38" width="5" height="6" fill="#000"/>
<rect x="507" y="25" width="5" height="6" fill="#000"/>
<rect x="517" y="22" width="5" height="6" fill="#000"/>
<rect x="527" y="25" width="5" height="6" fill="#000"/>
<rect x="537" y="35" width="5" height="6" fill="#000"/>
<rect x="547" y="51" width="5" height="6" fill="#000"/>
<rect x="557" y="70" width="5" height="6" fill="#000"/>
<rect x="568" y="84" width="4" height="6" fill="#000"/>
<rect x="578" y="94" width="5" height="6" fill="#000"/>
<rect x="588" y="97" width="5" height="6" fill="#000"/>
<rect x="598" y="97" width="5" height="6" fill="#000"/>
<rect x="608" y="97" width="5" height="6" fill="#000"/>
<rect x="618" y="97" width="5" height="6" fill="#000"/>
<rect x="628" y="97" width="5" height="6" fill="#000"/>
<rect x="638" y="97" width="5" height="6" fill="#000"/>
<rect x="648" y="97" width="5" height="6" fill="#000"/>
<rect x="658" y="97" width="5" height="6" fill="#000"/>
<rect x="668" y="97" width="5" height="6" fill="#000"/>
<rect x="679" y="97" width="4" height="6" fill="#000"/>
<rect x="426" y="254" width="5" height="6" fill="#000"/>
<rect x="436" y="233" width="5" height="6" fill="#000"/>
<rect x="446" y="190" width="5" height="6" fill="#000"/>
<rect x="457" y="156" width="5" height="6" fill="#000"/>
<rect x="467" y="128" width="5" height="6" fill="#000"/>
<rect x="477" y="103" width="4" height="6" fill="#000"/>
<rect x="487" y="83" width="5" height="6" fill="#000"/>
<rect x="497" y="68" width="5" height="6" fill="#000"/>
<rect x="507" y="64" width="5" height="6" fill="#000"/>
<rect x="517" y="65" width="5" height="6" fill="#000"/>
<rect x="527" y="77" width="5" height="6" fill="#000"/>
<rect x="537" y="93" width="5" height="6" fill="#000"/>
<rect x="547" y="105" width="5" height="6" fill="#000"/>
<rect x="557" y="110" width="5" height="6" fill="#000"/>
<rect x="568" y="112" width="4" height="6" fill="#000"/>
<rect x="578" y="112" width="5" height="6" fill="#000"/>
<rect x="588" y="112" width="5" height="6" fill="#000"/>
<rect x="598" y="112" width="5" height="6" fill="#000"/>
<rect x="608" y="112" width="5" height="6" fill="#000"/>
<rect x="618" y="112" width="5" height="6" fill="#000"/>
<rect x="628" y="112" width="5" height="6" fill="#000"/>
<rect x="638" y="112" width="5" height="6" fill="#000"/>
<rect x="648" y="112" width="5" height="6" fill="#000"/>
<rect x="658" y="112" width="5" height="6" fill="#000"/>
<rect x="668" y="112" width="5" height="6" fill="#000"/>
<rect x="679" y="112" width="4" height="6" fill="#000"/>
<rect x="426" y="254" width="5" height="6" fill="#000"/>
<rect x="436" y="236" width="5" height="6" fill="#000"/>
<rect x="446" y="194" width="5" height="6" fill="#000"/>
<rect x="457" y="168" width="5" height="6" fill="#000"/>
<rect x="467" y="147" width="5" height="6" fill="#000"/>
<rect x="477" y="127" width="4" height="6" fill="#000"/>
<rect x="487" y="116" width="5" height="6" fill="#000"/>
<rect x="497" y="109" width="5" height="6" fill="#000"/>
<rect x="507" y="109" width="5" height="6" fill="#000"/>
<rect x="517" y="116" width="5" height="6" fill="#000"/>
<rect x="527" y="122" width="5" height="6" fill="#000"/>
<rect x="537" y="126" width="5" height="6" fill="#000"/>
<rect x="547" y="128" width="5" height="6" fill="#000"/>
<rect x="557" y="129" width="5" height="6" fill="#000"/>
<rect x="568" y="129" width="4" height="6" fill="#000"/>
<rect x="578" y="129" width="5" height="6" fill="#000"/>
<rect x="588" y="129" width="5" height="6" fill="#000"/>
<rect x="598" y="129" width="5" height="6" fill="#000"/>
<rect x="608" y="129" width="5" height="6" fill="#000"/>
<rect x="618" y="129" width="5" height="6" fill="#000"/>
<rect x="628" y="129" width="5" height="6" fill="#000"/>
<rect x="638" y="129" width="5" height="6" fill="#000"/>
<rect x="648" y="129" width="5" height="6" fill="#000"/>
<rect x="658" y="129" width="5" height="6" fill="#000"/>
<rect x="668" y="129" width="5" height="6" fill="#000"/>
<rect x="679" y="129" width="4" height="6" fill="#000"/>
<rect x="426" y="254" width="5" height="6" fill="#000"/>
<rect x="436" y="238" width="5" height="6" fill="#000"/>
<rect x="446" y="206" width="5" height="6" fill="#000"/>
<rect x="457" y="187" width="5" height="6" fill="#000"/>
<rect x="467" y="169" width="5" height="6" fill="#000"/>
<rect x="477" y="157" width="4" height="6" fill="#000"/>
<rect x="487" y="148" width="5" height="6" fill="#000"/>
<rect x="497" y="145" width="5" height="6" fill="#000"/>
<rect x="507" y="147" width="5" height="6" fill="#000"/>
<rect x="517" y="148" width="5" height="6" fill="#000"/>
<rect x="527" y="149" width="5" height="6" fill="#000"/>
<rect x="537" y="151" width="5" height="6" fill="#000"/>
<rect x="547" y="151" width="5" height="6" fill="#000"/>
<rect x="557" y="151" width="5" height="6" fill="#000"/>
<rect x="568" y="151" width="4" height="6" fill="#000"/>
<rect x="578" y="149" width="5" height="6" fill="#000"/>
<rect x="588" y="149" width="5" height="6" fill="#000"/>
<rect x="598" y="149" width="5" height="6" fill="#000"/>
<rect x="608" y="148" width="5" height="6" fill="#000"/>
<rect x="618" y="148" width="5" height="6" fill="#000"/>
<rect x="628" y="148" width="5" height="6" fill="#000"/>
<rect x="638" y="148" width="5" height="6" fill="#000"/>
<rect x="648" y="148" width="5" height="6" fill="#000"/>
<rect x="658" y="148" width="5" height="6" fill="#000"/>
<rect x="668" y="148" width="5" height="6" fill="#000"/>
<rect x="679" y="148" width="4" height="6" fill="#000"/>
<rect x="426" y="254" width="5" height="6" fill="#000"/>
<rect x="436" y="241" width="5" height="6" fill="#000"/>
<rect x="446" y="219" width="5" height="6" fill="#000"/>
<rect x="457" y="204" width="5" height="6" fill="#000"/>
<rect x="467" y="193" width="5" height="6" fill="#000"/>
<rect x="477" y="186" width="4" height="6" fill="#000"/>
<rect x="487" y="181" width="5" height="6" fill="#000"/>
<rect x="497" y="177" width="5" height="6" fill="#000"/>
<rect x="507" y="176" width="5" height="6" fill="#000"/>
<rect x="517" y="175" width="5" height="6" fill="#000"/>
<rect x="527" y="175" width="5" height="6" fill="#000"/>
<rect x="537" y="174" width="5" height="6" fill="#000"/>
<rect x="547" y="174" width="5" height="6" fill="#000"/>
<rect x="557" y="174" width="5" height="6" fill="#000"/>
<rect x="568" y="174" width="4" height="6" fill="#000"/>
<rect x="578" y="174" width="5" height="6" fill="#000"/>
<rect x="588" y="174" width="5" height="6" fill="#000"/>
<rect x="598" y="174" width="5" height="6" fill="#000"/>
<rect x="608" y="174" width="5" height="6" fill="#000"/>
<rect x="618" y="174" width="5" height="6" fill="#000"/>
<rect x="628" y="174" width="5" height="6" fill="#000"/>
<rect x="638" y="174" width="5" height="6" fill="#000"/>
<rect x="648" y="174" width="5" height="6" fill="#000"/>
<rect x="658" y="174" width="5" height="6" fill="#000"/>
<rect x="668" y="174" width="5" height="6" fill="#000"/>
<rect x="679" y="174" width="4" height="6" fill="#000"/>
<rect x="426" y="254" width="5" height="6" fill="#000"/>
<rect x="436" y="244" width="5" height="6" fill="#000"/>
<rect x="446" y="230" width="5" height="6" fill="#000"/>
<rect x="457" y="220" width="5" height="6" fill="#000"/>
<rect x="467" y="214" width="5" height="6" fill="#000"/>
<rect x="477" y="208" width="4" height="6" fill="#000"/>
<rect x="487" y="205" width="5" height="6" fill="#000"/>
<rect x="497" y="205" width="5" height="6" fill="#000"/>
<rect x="507" y="204" width="5" height="6" fill="#000"/>
<rect x="517" y="204" width="5" height="6" fill="#000"/>
<rect x="527" y="204" width="5" height="6" fill="#000"/>
<rect x="537" y="204" width="5" height="6" fill="#000"/>
<rect x="547" y="202" width="5" height="6" fill="#000"/>
<rect x="557" y="202" width="5" height="6" fill="#000"/>
<rect x="568" y="202" width="4" height="6" fill="#000"/>
<rect x="578" y="202" width="5" height="6" fill="#000"/>
<rect x="588" y="202" width="5" height="6" fill="#000"/>
<rect x="598" y="202" width="5" height="6" fill="#000"/>
<rect x="608" y="202" width="5" height="6" fill="#000"/>
<rect x="618" y="202" width="5" height="6" fill="#000"/>
<rect x="628" y="202" width="5" height="6" fill="#000"/>
<rect x="638" y="202" width="5" height="6" fill="#000"/>
<rect x="648" y="202" width="5" height="6" fill="#000"/>
<rect x="658" y="202" width="5" height="6" fill="#000"/>
<rect x="668" y="202" width="5" height="6" fill="#000"/>
<rect x="679" y="202" width="4" height="6" fill="#000"/>
<rect x="426" y="254" width="5" height="6" fill="#000"/>
<rect x="436" y="249" width="5" height="6" fill="#000"/>
<rect x="446" y="241" width="5" height="6" fill="#000"/>
<rect x="457" y="238" width="5" height="6" fill="#000"/>
<rect x="467" y="235" width="5" height="6" fill="#000"/>
<rect x="477" y="234" width="4" height="6" fill="#000"/>
<rect x="487" y="233" width="5" height="6" fill="#000"/>
<rect x="497" y="233" width="5" height="6" fill="#000"/>
<rect x="507" y="234" width="5" height="6" fill="#000"/>
<rect x="517" y="234" width="5" height="6" fill="#000"/>
<rect x="527" y="234" width="5" height="6" fill="#000"/>
<rect x="537" y="232" width="5" height="6" fill="#000"/>
<rect x="547" y="232" width="5" height="6" fill="#000"/>
<rect x="557" y="232" width="5" height="6" fill="#000"/>
<rect x="568" y="232" width="4" height="6" fill="#000"/>
<rect x="578" y="232" width="5" height="6" fill="#000"/>
<rect x="588" y="232" width="5" height="6" fill="#000"/>
<rect x="598" y="232" width="5" height="6" fill="#000"/>
<rect x="608" y="232" width="5" height="6" fill="#000"/>
<rect x="618" y="232" width="5" height="6" fill="#000"/>
<rect x="628" y="232" width="5" height="6" fill="#000"/>
<rect x="638" y="232" width="5" height="6" fill="#000"/>
<rect x="648" y="232" width="5" height="6" fill="#000"/>
<rect x="658" y="232" width="5" height="6" fill="#000"/>
<rect x="668" y="232" width="5" height="6" fill="#000"/>
<rect x="679" y="232" width="4" height="6" fill="#000"/>
<text transform="translate(35.74,267.70) scale(1,1.08)" font-family="Liberation Sans" font-weight="bold" font-size="19" stroke="#fff" stroke-width="0.3">0</text>
<text transform="translate(35.74,227.90) scale(1,1.08)" font-family="Liberation Sans" font-weight="bold" font-size="19" stroke="#fff" stroke-width="0.3">2</text>
<text transform="translate(35.74,188.10) scale(1,1.08)" font-family="Liberation Sans" font-weight="bold" font-size="19" stroke="#fff" stroke-width="0.3">4</text>
<text transform="translate(35.74,148.30) scale(1,1.08)" font-family="Liberation Sans" font-weight="bold" font-size="19" stroke="#fff" stroke-width="0.3">6</text>
<text transform="translate(35.74,108.50) scale(1,1.08)" font-family="Liberation Sans" font-weight="bold" font-size="19" stroke="#fff" stroke-width="0.3">8</text>
<path transform="translate(28.27,68.70) scale(19,-19)" d="M0.399 0L0.287 0L0.287 0.53Q0.2 0.465 0.0845 0.43L0.0845 0.53Q0.138 0.55 0.201 0.598Q0.263 0.648 0.29 0.716L0.399 0.716Z" fill="#000"/><text transform="translate(38.84,68.70) scale(1,1.08)" font-family="Liberation Sans" font-weight="bold" font-size="19" stroke="#fff" stroke-width="0.3">0</text>
<path transform="translate(28.27,28.90) scale(19,-19)" d="M0.399 0L0.287 0L0.287 0.53Q0.2 0.465 0.0845 0.43L0.0845 0.53Q0.138 0.55 0.201 0.598Q0.263 0.648 0.29 0.716L0.399 0.716Z" fill="#000"/><text transform="translate(38.84,28.90) scale(1,1.08)" font-family="Liberation Sans" font-weight="bold" font-size="19" stroke="#fff" stroke-width="0.3">2</text>
<text transform="translate(392.04,264.70) scale(1,1.08)" font-family="Liberation Sans" font-weight="bold" font-size="19" stroke="#fff" stroke-width="0.3">0</text>
<text transform="translate(392.04,218.18) scale(1,1.08)" font-family="Liberation Sans" font-weight="bold" font-size="19" stroke="#fff" stroke-width="0.3">2</text>
<text transform="translate(392.04,171.66) scale(1,1.08)" font-family="Liberation Sans" font-weight="bold" font-size="19" stroke="#fff" stroke-width="0.3">4</text>
<text transform="translate(392.04,125.14) scale(1,1.08)" font-family="Liberation Sans" font-weight="bold" font-size="19" stroke="#fff" stroke-width="0.3">6</text>
<text transform="translate(392.04,78.62) scale(1,1.08)" font-family="Liberation Sans" font-weight="bold" font-size="19" stroke="#fff" stroke-width="0.3">8</text>
<path transform="translate(384.37,32.10) scale(19,-19)" d="M0.399 0L0.287 0L0.287 0.53Q0.2 0.465 0.0845 0.43L0.0845 0.53Q0.138 0.55 0.201 0.598Q0.263 0.648 0.29 0.716L0.399 0.716Z" fill="#000"/><text transform="translate(394.94,32.10) scale(1,1.08)" font-family="Liberation Sans" font-weight="bold" font-size="19" stroke="#fff" stroke-width="0.3">0</text>
<text transform="translate(69.22,302.00) scale(1,1.08)" font-family="Liberation Sans" font-weight="bold" font-size="19" stroke="#fff" stroke-width="0.3">0</text>
<text transform="translate(425.02,302.00) scale(1,1.08)" font-family="Liberation Sans" font-weight="bold" font-size="19" stroke="#fff" stroke-width="0.3">0</text>
<path transform="translate(119.72,302.00) scale(19,-19)" d="M0.399 0L0.287 0L0.287 0.53Q0.2 0.465 0.0845 0.43L0.0845 0.53Q0.138 0.55 0.201 0.598Q0.263 0.648 0.29 0.716L0.399 0.716Z" fill="#000"/>
<path transform="translate(475.62,302.00) scale(19,-19)" d="M0.399 0L0.287 0L0.287 0.53Q0.2 0.465 0.0845 0.43L0.0845 0.53Q0.138 0.55 0.201 0.598Q0.263 0.648 0.29 0.716L0.399 0.716Z" fill="#000"/>
<text transform="translate(169.86,302.00) scale(1,1.08)" font-family="Liberation Sans" font-weight="bold" font-size="19" stroke="#fff" stroke-width="0.3">2</text>
<text transform="translate(525.86,302.00) scale(1,1.08)" font-family="Liberation Sans" font-weight="bold" font-size="19" stroke="#fff" stroke-width="0.3">2</text>
<text transform="translate(220.18,302.00) scale(1,1.08)" font-family="Liberation Sans" font-weight="bold" font-size="19" stroke="#fff" stroke-width="0.3">3</text>
<text transform="translate(576.28,302.00) scale(1,1.08)" font-family="Liberation Sans" font-weight="bold" font-size="19" stroke="#fff" stroke-width="0.3">3</text>
<text transform="translate(270.50,302.00) scale(1,1.08)" font-family="Liberation Sans" font-weight="bold" font-size="19" stroke="#fff" stroke-width="0.3">4</text>
<text transform="translate(626.70,302.00) scale(1,1.08)" font-family="Liberation Sans" font-weight="bold" font-size="19" stroke="#fff" stroke-width="0.3">4</text>
<text transform="translate(320.82,302.00) scale(1,1.08)" font-family="Liberation Sans" font-weight="bold" font-size="19" stroke="#fff" stroke-width="0.3">5</text>
<text transform="translate(677.12,302.00) scale(1,1.08)" font-family="Liberation Sans" font-weight="bold" font-size="19" stroke="#fff" stroke-width="0.3">5</text>
<text transform="translate(19,257) rotate(-90)" font-family="Liberation Sans" font-weight="bold" font-size="24">Drain Current ( mA )</text>
<text transform="translate(375,257) rotate(-90)" font-family="Liberation Sans" font-weight="bold" font-size="24">Drain Current ( mA )</text>
<text x="169" y="336" font-family="Liberation Sans" font-weight="bold" font-size="24">Vds ( V )</text>
<text x="525" y="336" font-family="Liberation Sans" font-weight="bold" font-size="24">Vds ( V )</text>
<text x="88.4" y="364" font-family="Liberation Serif" font-size="23.5">(a)</text>
<text x="463.9" y="364" font-family="Liberation Serif" font-size="23.5">(b)</text>
</svg>
</body></html>
